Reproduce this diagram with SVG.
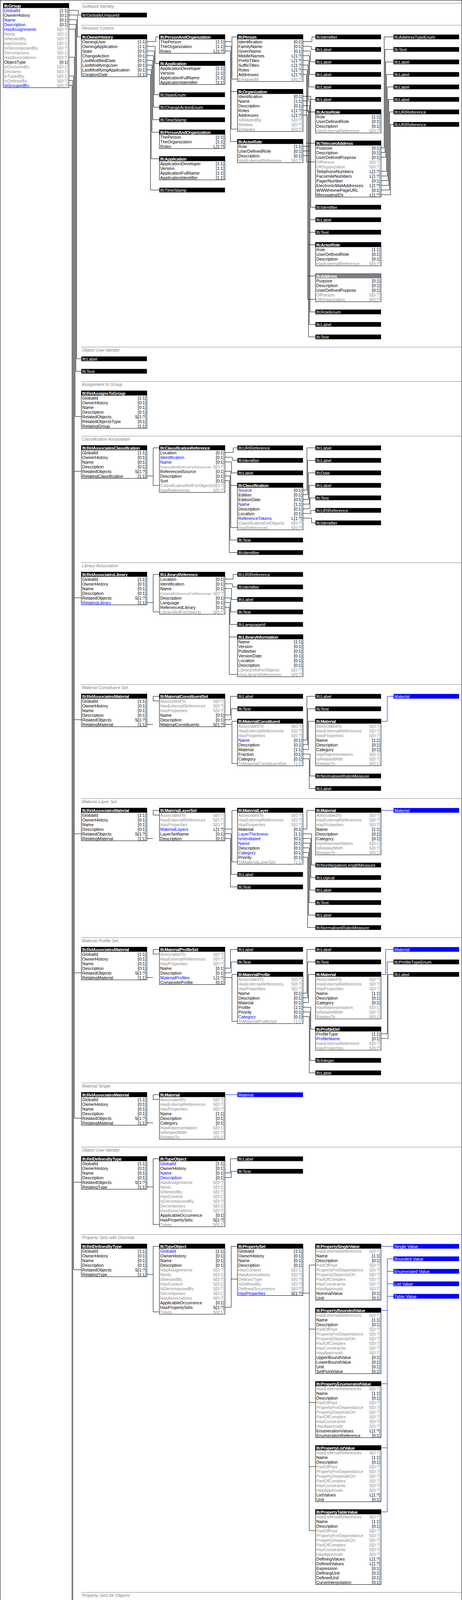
<svg xmlns="http://www.w3.org/2000/svg" width="1184" height="7020" viewBox="0 0 1184 7020">
<style>
text{font-family:"Liberation Sans",Arial,sans-serif;font-size:11px;fill:#000}
.h{font-weight:bold;fill:#fff;letter-spacing:-0.4px}
.w{fill:#fff}
.b{fill:#00f}
.g{fill:#8c8c8c}
.c{text-anchor:end}
.s{font-size:9px}
.l{font-style:italic;fill:#808080}
.bx{fill:#fff;stroke:#000}
.hd{fill:#000}
.hg{fill:#808080}
.bl{fill:#00f}
.sp{stroke:#808080;fill:none}
.k{fill:none;stroke:#000}
.kb{fill:none;stroke:#00f}
</style>
<rect x="0" y="0" width="1184" height="7020" fill="#fff"/>
<rect x="0.5" y="0.5" width="1183" height="7019" fill="none" stroke="#000"/>
<g id="sections">
<path class="sp" d="M208 8.5H1184M208 64.5H1184M208 888.5H1184M208 976.5H1184M208 1116.5H1184M208 1440.5H1184M208 1752.5H1184M208 2044.5H1184M208 2400.5H1184M208 2772.5H1184M208 2936.5H1184M208 3160.5H1184M208 4076.5H1184M208 4992.5H1184M208 5908.5H1184M208 6724.5H1184"/>
<text class="l" x="210" y="20">Software Identity</text>
<text class="l" x="210" y="76">Revision Control</text>
<text class="l" x="210" y="900">Object User Identity</text>
<text class="l" x="210" y="988">Assignment to Group</text>
<text class="l" x="210" y="1128">Classification Association</text>
<text class="l" x="210" y="1452">Library Association</text>
<text class="l" x="210" y="1764">Material Constituent Set</text>
<text class="l" x="210" y="2056">Material Layer Set</text>
<text class="l" x="210" y="2412">Material Profile Set</text>
<text class="l" x="210" y="2784">Material Single</text>
<text class="l" x="210" y="2948">Object User Identity</text>
<text class="l" x="210" y="3172">Property Sets with Override</text>
<text class="l" x="210" y="4088">Property Sets for Objects</text>
<text class="l" x="210" y="5004">Property Sets with Override</text>
<text class="l" x="210" y="5920">Quantity Sets</text>
<text class="l" x="210" y="6736">Group Assignment</text>
</g>
<g id="connectors">
<path class="k" d="M176.5 26.5H200.5V38.5H208.5M176.5 38.5H198.5V94.5H208.5M176.5 50.5H196.5V918.5H208.5M176.5 62.5H194.5V950.5H208.5M176.5 74.5H192.5V1066.5H208.5M176.5 146.5H190.5V2862.5H208.5M190.5 1206.5H208.5M190.5 1530.5H208.5M190.5 1842.5H208.5M190.5 2134.5H208.5M190.5 2490.5H208.5M176.5 194.5H188.5V3250.5H208.5M188.5 3026.5H208.5M176.5 206.5H186.5V5998.5H208.5M186.5 4166.5H208.5M186.5 5082.5H208.5M176.5 218.5H184.5V6838.5H208.5"/>
<path class="k" d="M376.5 106.5H399.5V94.5H408.5M376.5 118.5H397.5V162.5H408.5M376.5 130.5H395.5V242.5H408.5M376.5 142.5H393.5V274.5H408.5M376.5 154.5H391.5V306.5H408.5M376.5 166.5H389.5V338.5H408.5M376.5 178.5H387.5V406.5H408.5M376.5 190.5H385.5V486.5H408.5"/>
<path class="k" d="M576.5 106.5H594.5M608.5 94.5H594.5V202.5H608.5M576.5 118.5H592.5V330.5H608.5M592.5 234.5H608.5M576.5 130.5H590.5V362.5H608.5"/>
<path class="k" d="M776.5 106.5H799.5V94.5H808.5M776.5 118.5H797.5V126.5H808.5M776.5 130.5H795.5V158.5H808.5M776.5 142.5H793.5V190.5H808.5M776.5 154.5H791.5V222.5H808.5M776.5 166.5H789.5V254.5H808.5M776.5 178.5H787.5V286.5H808.5M776.5 190.5H785.5V414.5H808.5M785.5 366.5H808.5"/>
<path class="k" d="M776.5 246.5H796.5V530.5H808.5M776.5 258.5H794.5V562.5H808.5M776.5 270.5H792.5V594.5H808.5M776.5 282.5H790.5V626.5H808.5M776.5 294.5H788.5V766.5H808.5M788.5 706.5H808.5"/>
<path class="k" d="M776.5 374.5H794.5V798.5H808.5M776.5 386.5H792.5V830.5H808.5M776.5 398.5H790.5V862.5H808.5"/>
<path class="k" d="M976.5 378.5H984.5V94.5H1008.5M976.5 390.5H986.5V126.5H1008.5M976.5 402.5H988.5V158.5H1008.5M976.5 438.5H990.5V190.5H1008.5M976.5 450.5H992.5V222.5H1008.5M976.5 462.5H994.5V254.5H1008.5M976.5 474.5H996.5V254.5M976.5 486.5H998.5V286.5H1008.5M976.5 498.5H1000.5V318.5H1008.5"/>
<path class="k" d="M376.5 1218.5H392.5M408.5 1146.5H392.5V1242.5H408.5"/>
<path class="k" d="M576.5 1158.5H597.5V1146.5H608.5M576.5 1170.5H595.5V1178.5H608.5M576.5 1182.5H593.5V1210.5H608.5M576.5 1206.5H591.5V1350.5H608.5M591.5 1242.5H608.5M576.5 1218.5H589.5V1382.5H608.5M576.5 1230.5H587.5V1414.5H608.5"/>
<path class="k" d="M776.5 1254.5H786.5V1146.5H808.5M776.5 1266.5H788.5V1178.5H808.5M776.5 1278.5H790.5V1210.5H808.5M776.5 1290.5H792.5V1242.5H808.5M776.5 1302.5H794.5V1274.5H808.5M776.5 1314.5H796.5V1306.5H808.5M776.5 1326.5H798.5V1338.5H808.5"/>
<path class="k" d="M376.5 1542.5H392.5M408.5 1470.5H392.5V1566.5H408.5"/>
<path class="k" d="M576.5 1482.5H597.5V1470.5H608.5M576.5 1494.5H595.5V1502.5H608.5M576.5 1506.5H593.5V1534.5H608.5M576.5 1530.5H591.5V1566.5H608.5M576.5 1542.5H589.5V1598.5H608.5M576.5 1554.5H587.5V1726.5H608.5M587.5 1630.5H608.5"/>
<path class="k" d="M376.5 1854.5H392.5M408.5 1782.5H392.5V1794.5H408.5"/>
<path class="k" d="M576.5 1830.5H590.5V1782.5H608.5M576.5 1842.5H592.5V1814.5H608.5M576.5 1854.5H594.5M608.5 1846.5H594.5V1954.5H608.5"/>
<path class="k" d="M776.5 1894.5H786.5V1782.5H808.5M776.5 1906.5H788.5V1814.5H808.5M776.5 1918.5H790.5V1846.5H808.5M776.5 1930.5H794.5V1986.5H808.5M776.5 1942.5H792.5V2018.5H808.5"/>
<path class="kb" d="M976.5 1846.5H992.5V1782.5H1008.5"/>
<path class="k" d="M376.5 2146.5H392.5M408.5 2074.5H392.5V2086.5H408.5"/>
<path class="k" d="M576.5 2122.5H594.5M608.5 2074.5H594.5V2206.5H608.5M576.5 2134.5H592.5V2238.5H608.5M576.5 2146.5H590.5V2270.5H608.5"/>
<path class="k" d="M776.5 2122.5H786.5V2074.5H808.5M776.5 2134.5H798.5V2214.5H808.5M776.5 2146.5H796.5V2246.5H808.5M776.5 2158.5H794.5V2278.5H808.5M776.5 2170.5H792.5V2310.5H808.5M776.5 2182.5H790.5V2342.5H808.5M776.5 2194.5H788.5V2374.5H808.5"/>
<path class="kb" d="M976.5 2074.5H1008.5"/>
<path class="k" d="M376.5 2502.5H392.5M408.5 2430.5H392.5V2442.5H408.5"/>
<path class="k" d="M576.5 2478.5H590.5V2430.5H608.5M576.5 2490.5H592.5V2462.5H608.5M576.5 2502.5H594.5M608.5 2494.5H594.5V2614.5H608.5"/>
<path class="k" d="M776.5 2542.5H786.5V2430.5H808.5M776.5 2554.5H788.5V2462.5H808.5M776.5 2566.5H790.5V2494.5H808.5M776.5 2578.5H796.5V2634.5H808.5M776.5 2590.5H794.5V2714.5H808.5M776.5 2602.5H792.5V2746.5H808.5"/>
<path class="k" d="M976.5 2646.5H992.5V2462.5H1008.5M976.5 2658.5H994.5V2494.5H1008.5"/>
<path class="kb" d="M976.5 2494.5H988.5V2430.5H1008.5"/>
<path class="k" d="M376.5 2874.5H392.5M408.5 2802.5H392.5V2814.5H408.5"/>
<path class="kb" d="M576.5 2802.5H608.5"/>
<path class="k" d="M376.5 3038.5H392.5M408.5 2966.5H392.5V3134.5H408.5M576.5 3002.5H590.5V2966.5H608.5M576.5 3014.5H592.5V2998.5H608.5"/>
<path class="k" d="M376.5 3262.5H392.5M408.5 3190.5H392.5V3358.5H408.5M576.5 3346.5H592.5M608.5 3190.5H592.5V3346.5M592.5 3274.5H608.5"/>
<path class="k" d="M776.5 3310.5H792.5M792.5 3238.5V3918.5M792.5 3238.5H808.5M792.5 3402.5H808.5M792.5 3590.5H808.5M792.5 3754.5H808.5M792.5 3918.5H808.5"/>
<path class="kb" d="M976.5 3190.5H1008.5M976.5 3354.5H992.5V3222.5H1008.5M976.5 3542.5H992.5V3254.5H1008.5M976.5 3706.5H992.5V3286.5H1008.5M976.5 3870.5H992.5V3318.5H1008.5"/>
<path class="k" d="M376.5 4178.5H392.5M408.5 4106.5H392.5V4214.5H408.5"/>
<path class="k" d="M576.5 4226.5H592.5M592.5 4154.5V4834.5M592.5 4154.5H608.5M592.5 4318.5H608.5M592.5 4506.5H608.5M592.5 4670.5H608.5M592.5 4834.5H608.5"/>
<path class="kb" d="M776.5 4106.5H808.5M776.5 4270.5H792.5V4138.5H808.5M776.5 4458.5H792.5V4170.5H808.5M776.5 4622.5H792.5V4202.5H808.5M776.5 4786.5H792.5V4234.5H808.5"/>
<path class="k" d="M376.5 5094.5H392.5M408.5 5022.5H392.5V5130.5H408.5"/>
<path class="k" d="M576.5 5142.5H592.5M592.5 5070.5V5750.5M592.5 5070.5H608.5M592.5 5234.5H608.5M592.5 5422.5H608.5M592.5 5586.5H608.5M592.5 5750.5H608.5"/>
<path class="kb" d="M776.5 5022.5H808.5M776.5 5186.5H792.5V5054.5H808.5M776.5 5374.5H792.5V5086.5H808.5M776.5 5538.5H792.5V5118.5H808.5M776.5 5702.5H792.5V5150.5H808.5"/>
<path class="k" d="M376.5 6010.5H392.5M408.5 5938.5H392.5V6046.5H408.5"/>
<path class="k" d="M576.5 5974.5H588.5V5938.5H608.5M576.5 5986.5H590.5V5970.5H608.5M576.5 6058.5H592.5V6002.5H608.5M576.5 6070.5H594.5M608.5 6034.5H594.5V6614.5H608.5M594.5 6150.5H608.5M594.5 6266.5H608.5M594.5 6382.5H608.5M594.5 6498.5H608.5"/>
<path class="kb" d="M776.5 6034.5H808.5M792.5 5938.5V6614.5M792.5 5938.5H808.5M792.5 5970.5H808.5M792.5 6002.5H808.5M792.5 6066.5H808.5M792.5 6098.5H808.5M776.5 6150.5H792.5M776.5 6266.5H792.5M776.5 6382.5H792.5M776.5 6498.5H792.5M776.5 6614.5H792.5"/>
<path class="k" d="M376.5 6814.5H408.5"/>
<circle cx="571" cy="1182.5" r="5" fill="#00f"/>
</g>
<g id="nodes">
<g id="n_IfcGroup" transform="translate(8.5,8.5)"><rect class="bx" width="168" height="216"/><rect class="hd" width="168" height="12"/><text class="h" x="2" y="10">IfcGroup</text>
<text x="2" y="22" class="b">GlobalId</text><text x="166" y="22" class="c">[1:1]</text><text x="2" y="34">OwnerHistory</text><text x="166" y="34" class="c">[0:1]</text><text x="2" y="46" class="b">Name</text><text x="166" y="46" class="c">[0:1]</text><text x="2" y="58" class="b">Description</text><text x="166" y="58" class="c">[0:1]</text><text x="2" y="70" class="b">HasAssignments</text><text x="166" y="70" class="c g">S[0:?]</text><text x="2" y="82" class="g">Nests</text><text x="166" y="82" class="c g">S[0:1]</text><text x="2" y="94" class="g">IsNestedBy</text><text x="166" y="94" class="c g">S[0:?]</text><text x="2" y="106" class="g">HasContext</text><text x="166" y="106" class="c g">S[0:1]</text><text x="2" y="118" class="g">IsDecomposedBy</text><text x="166" y="118" class="c g">S[0:?]</text><text x="2" y="130" class="g">Decomposes</text><text x="166" y="130" class="c g">S[0:1]</text><text x="2" y="142" class="g">HasAssociations</text><text x="166" y="142" class="c g">S[0:?]</text><text x="2" y="154">ObjectType</text><text x="166" y="154" class="c">[0:1]</text><text x="2" y="166" class="g">IsDeclaredBy</text><text x="166" y="166" class="c g">S[0:1]</text><text x="2" y="178" class="g">Declares</text><text x="166" y="178" class="c g">S[0:?]</text><text x="2" y="190" class="g">IsTypedBy</text><text x="166" y="190" class="c g">S[0:1]</text><text x="2" y="202" class="g">IsDefinedBy</text><text x="166" y="202" class="c g">S[0:?]</text><text x="2" y="214" class="b">IsGroupedBy</text><text x="166" y="214" class="c g">S[0:?]</text></g>
<g id="n_GUID"><rect class="hd" x="208.5" y="32.5" width="168" height="12"/><text class="w" x="210.5" y="42.5">IfcGloballyUniqueId</text></g>

<g id="n_OwnerHistory" transform="translate(208.5,88.5)"><rect class="bx" width="168" height="108"/><rect class="hd" width="168" height="12"/><text class="h" x="2" y="10">IfcOwnerHistory</text>
<text x="2" y="22">OwningUser</text><text x="166" y="22" class="c">[1:1]</text><text x="2" y="34">OwningApplication</text><text x="166" y="34" class="c">[1:1]</text><text x="2" y="46">State</text><text x="166" y="46" class="c">[0:1]</text><text x="2" y="58">ChangeAction</text><text x="166" y="58" class="c">[0:1]</text><text x="2" y="70">LastModifiedDate</text><text x="166" y="70" class="c">[0:1]</text><text x="2" y="82">LastModifyingUser</text><text x="166" y="82" class="c">[0:1]</text><text x="2" y="94">LastModifyingApplication</text><text x="166" y="94" class="c">[0:1]</text><text x="2" y="106">CreationDate</text><text x="166" y="106" class="c">[1:1]</text></g>
<g id="n_PaO1" transform="translate(408.5,88.5)"><rect class="bx" width="168" height="48"/><rect class="hd" width="168" height="12"/><text class="h" x="2" y="10">IfcPersonAndOrganization</text>
<text x="2" y="22">ThePerson</text><text x="166" y="22" class="c">[1:1]</text><text x="2" y="34">TheOrganization</text><text x="166" y="34" class="c">[1:1]</text><text x="2" y="46">Roles</text><text x="166" y="46" class="c">L[1:?]</text></g>
<g id="n_App1" transform="translate(408.5,156.5)"><rect class="bx" width="168" height="60"/><rect class="hd" width="168" height="12"/><text class="h" x="2" y="10">IfcApplication</text>
<text x="2" y="22">ApplicationDeveloper</text><text x="166" y="22" class="c">[1:1]</text><text x="2" y="34">Version</text><text x="166" y="34" class="c">[1:1]</text><text x="2" y="46">ApplicationFullName</text><text x="166" y="46" class="c">[1:1]</text><text x="2" y="58">ApplicationIdentifier</text><text x="166" y="58" class="c">[1:1]</text></g>
<g id="n_StateEnum"><rect class="hd" x="408.5" y="236.5" width="168" height="12"/><text class="w" x="410.5" y="246.5">IfcStateEnum</text></g>
<g id="n_ChangeActionEnum"><rect class="hd" x="408.5" y="268.5" width="168" height="12"/><text class="w" x="410.5" y="278.5">IfcChangeActionEnum</text></g>
<g id="n_TimeStamp1"><rect class="hd" x="408.5" y="300.5" width="168" height="12"/><text class="w" x="410.5" y="310.5">IfcTimeStamp</text></g>
<g id="n_PaO2" transform="translate(408.5,332.5)"><rect class="bx" width="168" height="48"/><rect class="hd" width="168" height="12"/><text class="h" x="2" y="10">IfcPersonAndOrganization</text>
<text x="2" y="22">ThePerson</text><text x="166" y="22" class="c">[1:1]</text><text x="2" y="34">TheOrganization</text><text x="166" y="34" class="c">[1:1]</text><text x="2" y="46">Roles</text><text x="166" y="46" class="c">L[1:?]</text></g>
<g id="n_App2" transform="translate(408.5,400.5)"><rect class="bx" width="168" height="60"/><rect class="hd" width="168" height="12"/><text class="h" x="2" y="10">IfcApplication</text>
<text x="2" y="22">ApplicationDeveloper</text><text x="166" y="22" class="c">[1:1]</text><text x="2" y="34">Version</text><text x="166" y="34" class="c">[1:1]</text><text x="2" y="46">ApplicationFullName</text><text x="166" y="46" class="c">[1:1]</text><text x="2" y="58">ApplicationIdentifier</text><text x="166" y="58" class="c">[1:1]</text></g>
<g id="n_TimeStamp2"><rect class="hd" x="408.5" y="480.5" width="168" height="12"/><text class="w" x="410.5" y="490.5">IfcTimeStamp</text></g>
<g id="n_Person" transform="translate(608.5,88.5)"><rect class="bx" width="168" height="120"/><rect class="hd" width="168" height="12"/><text class="h" x="2" y="10">IfcPerson</text>
<text x="2" y="22">Identification</text><text x="166" y="22" class="c">[0:1]</text><text x="2" y="34">FamilyName</text><text x="166" y="34" class="c">[0:1]</text><text x="2" y="46">GivenName</text><text x="166" y="46" class="c">[0:1]</text><text x="2" y="58">MiddleNames</text><text x="166" y="58" class="c">L[1:?]</text><text x="2" y="70">PrefixTitles</text><text x="166" y="70" class="c">L[1:?]</text><text x="2" y="82">SuffixTitles</text><text x="166" y="82" class="c">L[1:?]</text><text x="2" y="94">Roles</text><text x="166" y="94" class="c">L[1:?]</text><text x="2" y="106">Addresses</text><text x="166" y="106" class="c">L[1:?]</text><text x="2" y="118" class="g">EngagedIn</text><text x="166" y="118" class="c g">S[0:?]</text></g>
<g id="n_Org" transform="translate(608.5,228.5)"><rect class="bx" width="168" height="108"/><rect class="hd" width="168" height="12"/><text class="h" x="2" y="10">IfcOrganization</text>
<text x="2" y="22">Identification</text><text x="166" y="22" class="c">[0:1]</text><text x="2" y="34">Name</text><text x="166" y="34" class="c">[1:1]</text><text x="2" y="46">Description</text><text x="166" y="46" class="c">[0:1]</text><text x="2" y="58">Roles</text><text x="166" y="58" class="c">L[1:?]</text><text x="2" y="70">Addresses</text><text x="166" y="70" class="c">L[1:?]</text><text x="2" y="82" class="g">IsRelatedBy</text><text x="166" y="82" class="c g">S[0:?]</text><text x="2" y="94" class="g">Relates</text><text x="166" y="94" class="c g">S[0:?]</text><text x="2" y="106" class="g">Engages</text><text x="166" y="106" class="c g">S[0:?]</text></g>
<g id="n_ActorRole1" transform="translate(608.5,356.5)"><rect class="bx" width="168" height="60"/><rect class="hd" width="168" height="12"/><text class="h" x="2" y="10">IfcActorRole</text>
<text x="2" y="22">Role</text><text x="166" y="22" class="c">[1:1]</text><text x="2" y="34">UserDefinedRole</text><text x="166" y="34" class="c">[0:1]</text><text x="2" y="46">Description</text><text x="166" y="46" class="c">[0:1]</text><text x="2" y="58" class="g">HasExternalReference</text><text x="166" y="58" class="c g">S[0:?]</text></g>
<g id="n_Ident1"><rect class="hd" x="808.5" y="88.5" width="168" height="12"/><text class="w" x="810.5" y="98.5">IfcIdentifier</text></g>
<g id="n_Label1"><rect class="hd" x="808.5" y="120.5" width="168" height="12"/><text class="w" x="810.5" y="130.5">IfcLabel</text></g>
<g id="n_Label2"><rect class="hd" x="808.5" y="152.5" width="168" height="12"/><text class="w" x="810.5" y="162.5">IfcLabel</text></g>
<g id="n_Label3"><rect class="hd" x="808.5" y="184.5" width="168" height="12"/><text class="w" x="810.5" y="194.5">IfcLabel</text></g>
<g id="n_Label4"><rect class="hd" x="808.5" y="216.5" width="168" height="12"/><text class="w" x="810.5" y="226.5">IfcLabel</text></g>
<g id="n_Label5"><rect class="hd" x="808.5" y="248.5" width="168" height="12"/><text class="w" x="810.5" y="258.5">IfcLabel</text></g>
<g id="n_ActorRole2" transform="translate(808.5,280.5)"><rect class="bx" width="168" height="60"/><rect class="hd" width="168" height="12"/><text class="h" x="2" y="10">IfcActorRole</text>
<text x="2" y="22">Role</text><text x="166" y="22" class="c">[1:1]</text><text x="2" y="34">UserDefinedRole</text><text x="166" y="34" class="c">[0:1]</text><text x="2" y="46">Description</text><text x="166" y="46" class="c">[0:1]</text><text x="2" y="58" class="g">HasExternalReference</text><text x="166" y="58" class="c g">S[0:?]</text></g>
<g id="n_Telecom" transform="translate(808.5,360.5)"><rect class="bx" width="168" height="144"/><rect class="hd" width="168" height="12"/><text class="h" x="2" y="10">IfcTelecomAddress</text>
<text x="2" y="22">Purpose</text><text x="166" y="22" class="c">[0:1]</text><text x="2" y="34">Description</text><text x="166" y="34" class="c">[0:1]</text><text x="2" y="46">UserDefinedPurpose</text><text x="166" y="46" class="c">[0:1]</text><text x="2" y="58" class="g">OfPerson</text><text x="166" y="58" class="c g">S[0:?]</text><text x="2" y="70" class="g">OfOrganization</text><text x="166" y="70" class="c g">S[0:?]</text><text x="2" y="82">TelephoneNumbers</text><text x="166" y="82" class="c">L[1:?]</text><text x="2" y="94">FacsimileNumbers</text><text x="166" y="94" class="c">L[1:?]</text><text x="2" y="106">PagerNumber</text><text x="166" y="106" class="c">[0:1]</text><text x="2" y="118">ElectronicMailAddresses</text><text x="166" y="118" class="c">L[1:?]</text><text x="2" y="130">WWWHomePageURL</text><text x="166" y="130" class="c">[0:1]</text><text x="2" y="142">MessagingIDs</text><text x="166" y="142" class="c">L[1:?]</text></g>
<g id="n_Ident2"><rect class="hd" x="808.5" y="524.5" width="168" height="12"/><text class="w" x="810.5" y="534.5">IfcIdentifier</text></g>
<g id="n_Label6"><rect class="hd" x="808.5" y="556.5" width="168" height="12"/><text class="w" x="810.5" y="566.5">IfcLabel</text></g>
<g id="n_Text1"><rect class="hd" x="808.5" y="588.5" width="168" height="12"/><text class="w" x="810.5" y="598.5">IfcText</text></g>
<g id="n_ActorRole3" transform="translate(808.5,620.5)"><rect class="bx" width="168" height="60"/><rect class="hd" width="168" height="12"/><text class="h" x="2" y="10">IfcActorRole</text>
<text x="2" y="22">Role</text><text x="166" y="22" class="c">[1:1]</text><text x="2" y="34">UserDefinedRole</text><text x="166" y="34" class="c">[0:1]</text><text x="2" y="46">Description</text><text x="166" y="46" class="c">[0:1]</text><text x="2" y="58" class="g">HasExternalReference</text><text x="166" y="58" class="c g">S[0:?]</text></g>
<g id="n_Address" transform="translate(808.5,700.5)"><rect class="bx" width="168" height="72"/><rect class="hg" width="168" height="12"/><text class="h" x="2" y="10">IfcAddress</text>
<text x="2" y="22">Purpose</text><text x="166" y="22" class="c">[0:1]</text><text x="2" y="34">Description</text><text x="166" y="34" class="c">[0:1]</text><text x="2" y="46">UserDefinedPurpose</text><text x="166" y="46" class="c">[0:1]</text><text x="2" y="58" class="g">OfPerson</text><text x="166" y="58" class="c g">S[0:?]</text><text x="2" y="70" class="g">OfOrganization</text><text x="166" y="70" class="c g">S[0:?]</text></g>
<g id="n_RoleEnum"><rect class="hd" x="808.5" y="792.5" width="168" height="12"/><text class="w" x="810.5" y="802.5">IfcRoleEnum</text></g>
<g id="n_Label7"><rect class="hd" x="808.5" y="824.5" width="168" height="12"/><text class="w" x="810.5" y="834.5">IfcLabel</text></g>
<g id="n_Text2"><rect class="hd" x="808.5" y="856.5" width="168" height="12"/><text class="w" x="810.5" y="866.5">IfcText</text></g>
<g id="n_AddrTypeEnum"><rect class="hd" x="1008.5" y="88.5" width="168" height="12"/><text class="w" x="1010.5" y="98.5">IfcAddressTypeEnum</text></g>
<g id="n_Text3"><rect class="hd" x="1008.5" y="120.5" width="168" height="12"/><text class="w" x="1010.5" y="130.5">IfcText</text></g>
<g id="n_Label8"><rect class="hd" x="1008.5" y="152.5" width="168" height="12"/><text class="w" x="1010.5" y="162.5">IfcLabel</text></g>
<g id="n_Label9"><rect class="hd" x="1008.5" y="184.5" width="168" height="12"/><text class="w" x="1010.5" y="194.5">IfcLabel</text></g>
<g id="n_Label10"><rect class="hd" x="1008.5" y="216.5" width="168" height="12"/><text class="w" x="1010.5" y="226.5">IfcLabel</text></g>
<g id="n_Label11"><rect class="hd" x="1008.5" y="248.5" width="168" height="12"/><text class="w" x="1010.5" y="258.5">IfcLabel</text></g>
<g id="n_URI1"><rect class="hd" x="1008.5" y="280.5" width="168" height="12"/><text class="w" x="1010.5" y="290.5">IfcURIReference</text></g>
<g id="n_URI2"><rect class="hd" x="1008.5" y="312.5" width="168" height="12"/><text class="w" x="1010.5" y="322.5">IfcURIReference</text></g>

<g id="n_Label12"><rect class="hd" x="208.5" y="912.5" width="168" height="12"/><text class="w" x="210.5" y="922.5">IfcLabel</text></g>
<g id="n_Text4"><rect class="hd" x="208.5" y="944.5" width="168" height="12"/><text class="w" x="210.5" y="954.5">IfcText</text></g>

<g id="n_RelAssignsToGroup1" transform="translate(208.5,1000.5)"><rect class="bx" width="168" height="96"/><rect class="hd" width="168" height="12"/><text class="h" x="2" y="10">IfcRelAssignsToGroup</text>
<text x="2" y="22">GlobalId</text><text x="166" y="22" class="c">[1:1]</text><text x="2" y="34">OwnerHistory</text><text x="166" y="34" class="c">[0:1]</text><text x="2" y="46">Name</text><text x="166" y="46" class="c">[0:1]</text><text x="2" y="58">Description</text><text x="166" y="58" class="c">[0:1]</text><text x="2" y="70">RelatedObjects</text><text x="166" y="70" class="c">S[1:?]</text><text x="2" y="82">RelatedObjectsType</text><text x="166" y="82" class="c">[0:1]</text><text x="2" y="94">RelatingGroup</text><text x="166" y="94" class="c">[1:1]</text></g>

<g id="n_RelAssocClass" transform="translate(208.5,1140.5)"><rect class="bx" width="168" height="84"/><rect class="hd" width="168" height="12"/><text class="h" x="2" y="10">IfcRelAssociatesClassification</text>
<text x="2" y="22">GlobalId</text><text x="166" y="22" class="c">[1:1]</text><text x="2" y="34">OwnerHistory</text><text x="166" y="34" class="c">[0:1]</text><text x="2" y="46">Name</text><text x="166" y="46" class="c">[0:1]</text><text x="2" y="58">Description</text><text x="166" y="58" class="c">[0:1]</text><text x="2" y="70">RelatedObjects</text><text x="166" y="70" class="c">S[1:?]</text><text x="2" y="82">RelatingClassification</text><text x="166" y="82" class="c">[1:1]</text></g>
<g id="n_ClassRef" transform="translate(408.5,1140.5)"><rect class="bx" width="168" height="120"/><rect class="hd" width="168" height="12"/><text class="h" x="2" y="10">IfcClassificationReference</text>
<text x="2" y="22">Location</text><text x="166" y="22" class="c">[0:1]</text><text x="2" y="34" class="b">Identification</text><text x="166" y="34" class="c">[0:1]</text><text x="2" y="46" class="b">Name</text><text x="166" y="46" class="c">[0:1]</text><text x="2" y="58" class="g s">ExternalReferenceForResources</text><text x="166" y="58" class="c g">S[0:?]</text><text x="2" y="70">ReferencedSource</text><text x="166" y="70" class="c">[0:1]</text><text x="2" y="82">Description</text><text x="166" y="82" class="c">[0:1]</text><text x="2" y="94">Sort</text><text x="166" y="94" class="c">[0:1]</text><text x="2" y="106" class="g">ClassificationRefForObjects</text><text x="166" y="106" class="c g">S[0:?]</text><text x="2" y="118" class="g">HasReferences</text><text x="166" y="118" class="c g">S[0:?]</text></g>
<g id="n_URI3"><rect class="hd" x="608.5" y="1140.5" width="168" height="12"/><text class="w" x="610.5" y="1150.5">IfcURIReference</text></g>
<g id="n_Ident3"><rect class="hd" x="608.5" y="1172.5" width="168" height="12"/><text class="w" x="610.5" y="1182.5">IfcIdentifier</text></g>
<g id="n_Label13"><rect class="hd" x="608.5" y="1204.5" width="168" height="12"/><text class="w" x="610.5" y="1214.5">IfcLabel</text></g>
<g id="n_Classification" transform="translate(608.5,1236.5)"><rect class="bx" width="168" height="120"/><rect class="hd" width="168" height="12"/><text class="h" x="2" y="10">IfcClassification</text>
<text x="2" y="22" class="b">Source</text><text x="166" y="22" class="c">[0:1]</text><text x="2" y="34">Edition</text><text x="166" y="34" class="c">[0:1]</text><text x="2" y="46">EditionDate</text><text x="166" y="46" class="c">[0:1]</text><text x="2" y="58" class="b">Name</text><text x="166" y="58" class="c">[1:1]</text><text x="2" y="70">Description</text><text x="166" y="70" class="c">[0:1]</text><text x="2" y="82">Location</text><text x="166" y="82" class="c">[0:1]</text><text x="2" y="94" class="b">ReferenceTokens</text><text x="166" y="94" class="c">L[1:?]</text><text x="2" y="106" class="g">ClassificationForObjects</text><text x="166" y="106" class="c g">S[0:?]</text><text x="2" y="118" class="g">HasReferences</text><text x="166" y="118" class="c g">S[0:?]</text></g>
<g id="n_Text5"><rect class="hd" x="608.5" y="1376.5" width="168" height="12"/><text class="w" x="610.5" y="1386.5">IfcText</text></g>
<g id="n_Ident4"><rect class="hd" x="608.5" y="1408.5" width="168" height="12"/><text class="w" x="610.5" y="1418.5">IfcIdentifier</text></g>
<g id="n_Label14"><rect class="hd" x="808.5" y="1140.5" width="168" height="12"/><text class="w" x="810.5" y="1150.5">IfcLabel</text></g>
<g id="n_Label15"><rect class="hd" x="808.5" y="1172.5" width="168" height="12"/><text class="w" x="810.5" y="1182.5">IfcLabel</text></g>
<g id="n_Date1"><rect class="hd" x="808.5" y="1204.5" width="168" height="12"/><text class="w" x="810.5" y="1214.5">IfcDate</text></g>
<g id="n_Label16"><rect class="hd" x="808.5" y="1236.5" width="168" height="12"/><text class="w" x="810.5" y="1246.5">IfcLabel</text></g>
<g id="n_Text6"><rect class="hd" x="808.5" y="1268.5" width="168" height="12"/><text class="w" x="810.5" y="1278.5">IfcText</text></g>
<g id="n_URI4"><rect class="hd" x="808.5" y="1300.5" width="168" height="12"/><text class="w" x="810.5" y="1310.5">IfcURIReference</text></g>
<g id="n_Ident5"><rect class="hd" x="808.5" y="1332.5" width="168" height="12"/><text class="w" x="810.5" y="1342.5">IfcIdentifier</text></g>

<g id="n_RelAssocLib" transform="translate(208.5,1464.5)"><rect class="bx" width="168" height="84"/><rect class="hd" width="168" height="12"/><text class="h" x="2" y="10">IfcRelAssociatesLibrary</text>
<text x="2" y="22">GlobalId</text><text x="166" y="22" class="c">[1:1]</text><text x="2" y="34">OwnerHistory</text><text x="166" y="34" class="c">[0:1]</text><text x="2" y="46">Name</text><text x="166" y="46" class="c">[0:1]</text><text x="2" y="58">Description</text><text x="166" y="58" class="c">[0:1]</text><text x="2" y="70">RelatedObjects</text><text x="166" y="70" class="c">S[1:?]</text><text x="2" y="82" class="b">RelatingLibrary</text><text x="166" y="82" class="c">[1:1]</text></g>
<g id="n_LibRef" transform="translate(408.5,1464.5)"><rect class="bx" width="168" height="108"/><rect class="hd" width="168" height="12"/><text class="h" x="2" y="10">IfcLibraryReference</text>
<text x="2" y="22">Location</text><text x="166" y="22" class="c">[0:1]</text><text x="2" y="34">Identification</text><text x="166" y="34" class="c">[0:1]</text><text x="2" y="46">Name</text><text x="166" y="46" class="c">[0:1]</text><text x="2" y="58" class="g s">ExternalReferenceForResources</text><text x="166" y="58" class="c g">S[0:?]</text><text x="2" y="70">Description</text><text x="166" y="70" class="c">[0:1]</text><text x="2" y="82">Language</text><text x="166" y="82" class="c">[0:1]</text><text x="2" y="94">ReferencedLibrary</text><text x="166" y="94" class="c">[0:1]</text><text x="2" y="106" class="g">LibraryRefForObjects</text><text x="166" y="106" class="c g">S[0:?]</text></g>
<g id="n_URI5"><rect class="hd" x="608.5" y="1464.5" width="168" height="12"/><text class="w" x="610.5" y="1474.5">IfcURIReference</text></g>
<g id="n_Ident6"><rect class="hd" x="608.5" y="1496.5" width="168" height="12"/><text class="w" x="610.5" y="1506.5">IfcIdentifier</text></g>
<g id="n_Label17"><rect class="hd" x="608.5" y="1528.5" width="168" height="12"/><text class="w" x="610.5" y="1538.5">IfcLabel</text></g>
<g id="n_Text7"><rect class="hd" x="608.5" y="1560.5" width="168" height="12"/><text class="w" x="610.5" y="1570.5">IfcText</text></g>
<g id="n_LangId"><rect class="hd" x="608.5" y="1592.5" width="168" height="12"/><text class="w" x="610.5" y="1602.5">IfcLanguageId</text></g>
<g id="n_LibInfo" transform="translate(608.5,1624.5)"><rect class="bx" width="168" height="108"/><rect class="hd" width="168" height="12"/><text class="h" x="2" y="10">IfcLibraryInformation</text>
<text x="2" y="22">Name</text><text x="166" y="22" class="c">[1:1]</text><text x="2" y="34">Version</text><text x="166" y="34" class="c">[0:1]</text><text x="2" y="46">Publisher</text><text x="166" y="46" class="c">[0:1]</text><text x="2" y="58">VersionDate</text><text x="166" y="58" class="c">[0:1]</text><text x="2" y="70">Location</text><text x="166" y="70" class="c">[0:1]</text><text x="2" y="82">Description</text><text x="166" y="82" class="c">[0:1]</text><text x="2" y="94" class="g">LibraryInfoForObjects</text><text x="166" y="94" class="c g">S[0:?]</text><text x="2" y="106" class="g">HasLibraryReferences</text><text x="166" y="106" class="c g">S[0:?]</text></g>

<g id="n_RelAssocMat1" transform="translate(208.5,1776.5)"><rect class="bx" width="168" height="84"/><rect class="hd" width="168" height="12"/><text class="h" x="2" y="10">IfcRelAssociatesMaterial</text>
<text x="2" y="22">GlobalId</text><text x="166" y="22" class="c">[1:1]</text><text x="2" y="34">OwnerHistory</text><text x="166" y="34" class="c">[0:1]</text><text x="2" y="46">Name</text><text x="166" y="46" class="c">[0:1]</text><text x="2" y="58">Description</text><text x="166" y="58" class="c">[0:1]</text><text x="2" y="70">RelatedObjects</text><text x="166" y="70" class="c">S[1:?]</text><text x="2" y="82">RelatingMaterial</text><text x="166" y="82" class="c">[1:1]</text></g>
<g id="n_MatConstSet" transform="translate(408.5,1776.5)"><rect class="bx" width="168" height="84"/><rect class="hd" width="168" height="12"/><text class="h" x="2" y="10">IfcMaterialConstituentSet</text>
<text x="2" y="22" class="g">AssociatedTo</text><text x="166" y="22" class="c g">S[0:?]</text><text x="2" y="34" class="g">HasExternalReferences</text><text x="166" y="34" class="c g">S[0:?]</text><text x="2" y="46" class="g">HasProperties</text><text x="166" y="46" class="c g">S[0:?]</text><text x="2" y="58">Name</text><text x="166" y="58" class="c">[0:1]</text><text x="2" y="70">Description</text><text x="166" y="70" class="c">[0:1]</text><text x="2" y="82">MaterialConstituents</text><text x="166" y="82" class="c">S[1:?]</text></g>
<g id="n_Label18"><rect class="hd" x="608.5" y="1776.5" width="168" height="12"/><text class="w" x="610.5" y="1786.5">IfcLabel</text></g>
<g id="n_Text8"><rect class="hd" x="608.5" y="1808.5" width="168" height="12"/><text class="w" x="610.5" y="1818.5">IfcText</text></g>
<g id="n_MatConst" transform="translate(608.5,1840.5)"><rect class="bx" width="168" height="120"/><rect class="hd" width="168" height="12"/><text class="h" x="2" y="10">IfcMaterialConstituent</text>
<text x="2" y="22" class="g">AssociatedTo</text><text x="166" y="22" class="c g">S[0:?]</text><text x="2" y="34" class="g">HasExternalReferences</text><text x="166" y="34" class="c g">S[0:?]</text><text x="2" y="46" class="g">HasProperties</text><text x="166" y="46" class="c g">S[0:?]</text><text x="2" y="58" class="b">Name</text><text x="166" y="58" class="c">[0:1]</text><text x="2" y="70">Description</text><text x="166" y="70" class="c">[0:1]</text><text x="2" y="82">Material</text><text x="166" y="82" class="c">[1:1]</text><text x="2" y="94">Fraction</text><text x="166" y="94" class="c">[0:1]</text><text x="2" y="106">Category</text><text x="166" y="106" class="c">[0:1]</text><text x="2" y="118" class="g">ToMaterialConstituentSet</text><text x="166" y="118" class="c g">[1:1]</text></g>
<g id="n_Label19"><rect class="hd" x="808.5" y="1776.5" width="168" height="12"/><text class="w" x="810.5" y="1786.5">IfcLabel</text></g>
<g id="n_Text9"><rect class="hd" x="808.5" y="1808.5" width="168" height="12"/><text class="w" x="810.5" y="1818.5">IfcText</text></g>
<g id="n_Material1" transform="translate(808.5,1840.5)"><rect class="bx" width="168" height="120"/><rect class="hd" width="168" height="12"/><text class="h" x="2" y="10">IfcMaterial</text>
<text x="2" y="22" class="g">AssociatedTo</text><text x="166" y="22" class="c g">S[0:?]</text><text x="2" y="34" class="g">HasExternalReferences</text><text x="166" y="34" class="c g">S[0:?]</text><text x="2" y="46" class="g">HasProperties</text><text x="166" y="46" class="c g">S[0:?]</text><text x="2" y="58">Name</text><text x="166" y="58" class="c">[1:1]</text><text x="2" y="70">Description</text><text x="166" y="70" class="c">[0:1]</text><text x="2" y="82">Category</text><text x="166" y="82" class="c">[0:1]</text><text x="2" y="94" class="g">HasRepresentation</text><text x="166" y="94" class="c g">S[0:1]</text><text x="2" y="106" class="g">IsRelatedWith</text><text x="166" y="106" class="c g">S[0:?]</text><text x="2" y="118" class="g">RelatesTo</text><text x="166" y="118" class="c g">S[0:1]</text></g>
<g id="n_NRM1"><rect class="hd" x="808.5" y="1980.5" width="168" height="12"/><text class="w" x="810.5" y="1990.5">IfcNormalisedRatioMeasure</text></g>
<g id="n_Label20"><rect class="hd" x="808.5" y="2012.5" width="168" height="12"/><text class="w" x="810.5" y="2022.5">IfcLabel</text></g>
<g id="n_MatBlue1"><rect class="bl" x="1008.5" y="1776.5" width="168" height="12"/><text class="w" x="1010.5" y="1786.5">Material</text></g>

<g id="n_RelAssocMat2" transform="translate(208.5,2068.5)"><rect class="bx" width="168" height="84"/><rect class="hd" width="168" height="12"/><text class="h" x="2" y="10">IfcRelAssociatesMaterial</text>
<text x="2" y="22">GlobalId</text><text x="166" y="22" class="c">[1:1]</text><text x="2" y="34">OwnerHistory</text><text x="166" y="34" class="c">[0:1]</text><text x="2" y="46">Name</text><text x="166" y="46" class="c">[0:1]</text><text x="2" y="58">Description</text><text x="166" y="58" class="c">[0:1]</text><text x="2" y="70">RelatedObjects</text><text x="166" y="70" class="c">S[1:?]</text><text x="2" y="82">RelatingMaterial</text><text x="166" y="82" class="c">[1:1]</text></g>
<g id="n_MatLayerSet" transform="translate(408.5,2068.5)"><rect class="bx" width="168" height="84"/><rect class="hd" width="168" height="12"/><text class="h" x="2" y="10">IfcMaterialLayerSet</text>
<text x="2" y="22" class="g">AssociatedTo</text><text x="166" y="22" class="c g">S[0:?]</text><text x="2" y="34" class="g">HasExternalReferences</text><text x="166" y="34" class="c g">S[0:?]</text><text x="2" y="46" class="g">HasProperties</text><text x="166" y="46" class="c g">S[0:?]</text><text x="2" y="58" class="b">MaterialLayers</text><text x="166" y="58" class="c">L[1:?]</text><text x="2" y="70">LayerSetName</text><text x="166" y="70" class="c">[0:1]</text><text x="2" y="82">Description</text><text x="166" y="82" class="c">[0:1]</text></g>
<g id="n_MatLayer" transform="translate(608.5,2068.5)"><rect class="bx" width="168" height="144"/><rect class="hd" width="168" height="12"/><text class="h" x="2" y="10">IfcMaterialLayer</text>
<text x="2" y="22" class="g">AssociatedTo</text><text x="166" y="22" class="c g">S[0:?]</text><text x="2" y="34" class="g">HasExternalReferences</text><text x="166" y="34" class="c g">S[0:?]</text><text x="2" y="46" class="g">HasProperties</text><text x="166" y="46" class="c g">S[0:?]</text><text x="2" y="58">Material</text><text x="166" y="58" class="c">[0:1]</text><text x="2" y="70" class="b">LayerThickness</text><text x="166" y="70" class="c">[1:1]</text><text x="2" y="82" class="b">IsVentilated</text><text x="166" y="82" class="c">[0:1]</text><text x="2" y="94" class="b">Name</text><text x="166" y="94" class="c">[0:1]</text><text x="2" y="106">Description</text><text x="166" y="106" class="c">[0:1]</text><text x="2" y="118" class="b">Category</text><text x="166" y="118" class="c">[0:1]</text><text x="2" y="130">Priority</text><text x="166" y="130" class="c">[0:1]</text><text x="2" y="142" class="g">ToMaterialLayerSet</text><text x="166" y="142" class="c g">[1:1]</text></g>
<g id="n_Label21"><rect class="hd" x="608.5" y="2232.5" width="168" height="12"/><text class="w" x="610.5" y="2242.5">IfcLabel</text></g>
<g id="n_Text10"><rect class="hd" x="608.5" y="2264.5" width="168" height="12"/><text class="w" x="610.5" y="2274.5">IfcText</text></g>
<g id="n_Material2" transform="translate(808.5,2068.5)"><rect class="bx" width="168" height="120"/><rect class="hd" width="168" height="12"/><text class="h" x="2" y="10">IfcMaterial</text>
<text x="2" y="22" class="g">AssociatedTo</text><text x="166" y="22" class="c g">S[0:?]</text><text x="2" y="34" class="g">HasExternalReferences</text><text x="166" y="34" class="c g">S[0:?]</text><text x="2" y="46" class="g">HasProperties</text><text x="166" y="46" class="c g">S[0:?]</text><text x="2" y="58">Name</text><text x="166" y="58" class="c">[1:1]</text><text x="2" y="70">Description</text><text x="166" y="70" class="c">[0:1]</text><text x="2" y="82">Category</text><text x="166" y="82" class="c">[0:1]</text><text x="2" y="94" class="g">HasRepresentation</text><text x="166" y="94" class="c g">S[0:1]</text><text x="2" y="106" class="g">IsRelatedWith</text><text x="166" y="106" class="c g">S[0:?]</text><text x="2" y="118" class="g">RelatesTo</text><text x="166" y="118" class="c g">S[0:1]</text></g>
<g id="n_NNLM"><rect class="hd" x="808.5" y="2208.5" width="168" height="12"/><text class="w" x="810.5" y="2218.5">IfcNonNegativeLengthMeasure</text></g>
<g id="n_Logical"><rect class="hd" x="808.5" y="2240.5" width="168" height="12"/><text class="w" x="810.5" y="2250.5">IfcLogical</text></g>
<g id="n_Label22"><rect class="hd" x="808.5" y="2272.5" width="168" height="12"/><text class="w" x="810.5" y="2282.5">IfcLabel</text></g>
<g id="n_Text11"><rect class="hd" x="808.5" y="2304.5" width="168" height="12"/><text class="w" x="810.5" y="2314.5">IfcText</text></g>
<g id="n_Label23"><rect class="hd" x="808.5" y="2336.5" width="168" height="12"/><text class="w" x="810.5" y="2346.5">IfcLabel</text></g>
<g id="n_NRM2"><rect class="hd" x="808.5" y="2368.5" width="168" height="12"/><text class="w" x="810.5" y="2378.5">IfcNormalisedRatioMeasure</text></g>
<g id="n_MatBlue2"><rect class="bl" x="1008.5" y="2068.5" width="168" height="12"/><text class="w" x="1010.5" y="2078.5">Material</text></g>

<g id="n_RelAssocMat3" transform="translate(208.5,2424.5)"><rect class="bx" width="168" height="84"/><rect class="hd" width="168" height="12"/><text class="h" x="2" y="10">IfcRelAssociatesMaterial</text>
<text x="2" y="22">GlobalId</text><text x="166" y="22" class="c">[1:1]</text><text x="2" y="34">OwnerHistory</text><text x="166" y="34" class="c">[0:1]</text><text x="2" y="46">Name</text><text x="166" y="46" class="c">[0:1]</text><text x="2" y="58">Description</text><text x="166" y="58" class="c">[0:1]</text><text x="2" y="70">RelatedObjects</text><text x="166" y="70" class="c">S[1:?]</text><text x="2" y="82">RelatingMaterial</text><text x="166" y="82" class="c">[1:1]</text></g>
<g id="n_MatProfSet" transform="translate(408.5,2424.5)"><rect class="bx" width="168" height="96"/><rect class="hd" width="168" height="12"/><text class="h" x="2" y="10">IfcMaterialProfileSet</text>
<text x="2" y="22" class="g">AssociatedTo</text><text x="166" y="22" class="c g">S[0:?]</text><text x="2" y="34" class="g">HasExternalReferences</text><text x="166" y="34" class="c g">S[0:?]</text><text x="2" y="46" class="g">HasProperties</text><text x="166" y="46" class="c g">S[0:?]</text><text x="2" y="58">Name</text><text x="166" y="58" class="c">[0:1]</text><text x="2" y="70">Description</text><text x="166" y="70" class="c">[0:1]</text><text x="2" y="82" class="b">MaterialProfiles</text><text x="166" y="82" class="c">L[1:?]</text><text x="2" y="94">CompositeProfile</text><text x="166" y="94" class="c">[0:1]</text></g>
<g id="n_Label24"><rect class="hd" x="608.5" y="2424.5" width="168" height="12"/><text class="w" x="610.5" y="2434.5">IfcLabel</text></g>
<g id="n_Text12"><rect class="hd" x="608.5" y="2456.5" width="168" height="12"/><text class="w" x="610.5" y="2466.5">IfcText</text></g>
<g id="n_MatProf" transform="translate(608.5,2488.5)"><rect class="bx" width="168" height="132"/><rect class="hd" width="168" height="12"/><text class="h" x="2" y="10">IfcMaterialProfile</text>
<text x="2" y="22" class="g">AssociatedTo</text><text x="166" y="22" class="c g">S[0:?]</text><text x="2" y="34" class="g">HasExternalReferences</text><text x="166" y="34" class="c g">S[0:?]</text><text x="2" y="46" class="g">HasProperties</text><text x="166" y="46" class="c g">S[0:?]</text><text x="2" y="58">Name</text><text x="166" y="58" class="c">[0:1]</text><text x="2" y="70">Description</text><text x="166" y="70" class="c">[0:1]</text><text x="2" y="82">Material</text><text x="166" y="82" class="c">[0:1]</text><text x="2" y="94">Profile</text><text x="166" y="94" class="c">[1:1]</text><text x="2" y="106">Priority</text><text x="166" y="106" class="c">[0:1]</text><text x="2" y="118" class="b">Category</text><text x="166" y="118" class="c">[0:1]</text><text x="2" y="130" class="g">ToMaterialProfileSet</text><text x="166" y="130" class="c g">[1:1]</text></g>
<g id="n_Label25"><rect class="hd" x="808.5" y="2424.5" width="168" height="12"/><text class="w" x="810.5" y="2434.5">IfcLabel</text></g>
<g id="n_Text13"><rect class="hd" x="808.5" y="2456.5" width="168" height="12"/><text class="w" x="810.5" y="2466.5">IfcText</text></g>
<g id="n_Material3" transform="translate(808.5,2488.5)"><rect class="bx" width="168" height="120"/><rect class="hd" width="168" height="12"/><text class="h" x="2" y="10">IfcMaterial</text>
<text x="2" y="22" class="g">AssociatedTo</text><text x="166" y="22" class="c g">S[0:?]</text><text x="2" y="34" class="g">HasExternalReferences</text><text x="166" y="34" class="c g">S[0:?]</text><text x="2" y="46" class="g">HasProperties</text><text x="166" y="46" class="c g">S[0:?]</text><text x="2" y="58">Name</text><text x="166" y="58" class="c">[1:1]</text><text x="2" y="70">Description</text><text x="166" y="70" class="c">[0:1]</text><text x="2" y="82">Category</text><text x="166" y="82" class="c">[0:1]</text><text x="2" y="94" class="g">HasRepresentation</text><text x="166" y="94" class="c g">S[0:1]</text><text x="2" y="106" class="g">IsRelatedWith</text><text x="166" y="106" class="c g">S[0:?]</text><text x="2" y="118" class="g">RelatesTo</text><text x="166" y="118" class="c g">S[0:1]</text></g>
<g id="n_ProfileDef" transform="translate(808.5,2628.5)"><rect class="bx" width="168" height="60"/><rect class="hd" width="168" height="12"/><text class="h" x="2" y="10">IfcProfileDef</text>
<text x="2" y="22">ProfileType</text><text x="166" y="22" class="c">[1:1]</text><text x="2" y="34" class="b">ProfileName</text><text x="166" y="34" class="c">[0:1]</text><text x="2" y="46" class="g">HasExternalReference</text><text x="166" y="46" class="c g">S[0:?]</text><text x="2" y="58" class="g">HasProperties</text><text x="166" y="58" class="c g">S[0:?]</text></g>
<g id="n_Integer"><rect class="hd" x="808.5" y="2708.5" width="168" height="12"/><text class="w" x="810.5" y="2718.5">IfcInteger</text></g>
<g id="n_Label26"><rect class="hd" x="808.5" y="2740.5" width="168" height="12"/><text class="w" x="810.5" y="2750.5">IfcLabel</text></g>
<g id="n_MatBlue3"><rect class="bl" x="1008.5" y="2424.5" width="168" height="12"/><text class="w" x="1010.5" y="2434.5">Material</text></g>
<g id="n_ProfTypeEnum"><rect class="hd" x="1008.5" y="2456.5" width="168" height="12"/><text class="w" x="1010.5" y="2466.5">IfcProfileTypeEnum</text></g>
<g id="n_Label27"><rect class="hd" x="1008.5" y="2488.5" width="168" height="12"/><text class="w" x="1010.5" y="2498.5">IfcLabel</text></g>

<g id="n_RelAssocMat4" transform="translate(208.5,2796.5)"><rect class="bx" width="168" height="84"/><rect class="hd" width="168" height="12"/><text class="h" x="2" y="10">IfcRelAssociatesMaterial</text>
<text x="2" y="22">GlobalId</text><text x="166" y="22" class="c">[1:1]</text><text x="2" y="34">OwnerHistory</text><text x="166" y="34" class="c">[0:1]</text><text x="2" y="46">Name</text><text x="166" y="46" class="c">[0:1]</text><text x="2" y="58">Description</text><text x="166" y="58" class="c">[0:1]</text><text x="2" y="70">RelatedObjects</text><text x="166" y="70" class="c">S[1:?]</text><text x="2" y="82">RelatingMaterial</text><text x="166" y="82" class="c">[1:1]</text></g>
<g id="n_Material4" transform="translate(408.5,2796.5)"><rect class="bx" width="168" height="120"/><rect class="hd" width="168" height="12"/><text class="h" x="2" y="10">IfcMaterial</text>
<text x="2" y="22" class="g">AssociatedTo</text><text x="166" y="22" class="c g">S[0:?]</text><text x="2" y="34" class="g">HasExternalReferences</text><text x="166" y="34" class="c g">S[0:?]</text><text x="2" y="46" class="g">HasProperties</text><text x="166" y="46" class="c g">S[0:?]</text><text x="2" y="58">Name</text><text x="166" y="58" class="c">[1:1]</text><text x="2" y="70">Description</text><text x="166" y="70" class="c">[0:1]</text><text x="2" y="82">Category</text><text x="166" y="82" class="c">[0:1]</text><text x="2" y="94" class="g">HasRepresentation</text><text x="166" y="94" class="c g">S[0:1]</text><text x="2" y="106" class="g">IsRelatedWith</text><text x="166" y="106" class="c g">S[0:?]</text><text x="2" y="118" class="g">RelatesTo</text><text x="166" y="118" class="c g">S[0:1]</text></g>
<g id="n_MatBlue4"><rect class="bl" x="608.5" y="2796.5" width="168" height="12"/><text class="w" x="610.5" y="2806.5">Material</text></g>

<g id="n_RelDefType1" transform="translate(208.5,2960.5)"><rect class="bx" width="168" height="84"/><rect class="hd" width="168" height="12"/><text class="h" x="2" y="10">IfcRelDefinesByType</text>
<text x="2" y="22">GlobalId</text><text x="166" y="22" class="c">[1:1]</text><text x="2" y="34">OwnerHistory</text><text x="166" y="34" class="c">[0:1]</text><text x="2" y="46">Name</text><text x="166" y="46" class="c">[0:1]</text><text x="2" y="58">Description</text><text x="166" y="58" class="c">[0:1]</text><text x="2" y="70">RelatedObjects</text><text x="166" y="70" class="c">S[1:?]</text><text x="2" y="82">RelatingType</text><text x="166" y="82" class="c">[1:1]</text></g>
<g id="n_TypeObject1" transform="translate(408.5,2960.5)"><rect class="bx" width="168" height="180"/><rect class="hd" width="168" height="12"/><text class="h" x="2" y="10">IfcTypeObject</text>
<text x="2" y="22" class="b">GlobalId</text><text x="166" y="22" class="c">[1:1]</text><text x="2" y="34">OwnerHistory</text><text x="166" y="34" class="c">[0:1]</text><text x="2" y="46" class="b">Name</text><text x="166" y="46" class="c">[0:1]</text><text x="2" y="58" class="b">Description</text><text x="166" y="58" class="c">[0:1]</text><text x="2" y="70" class="g">HasAssignments</text><text x="166" y="70" class="c g">S[0:?]</text><text x="2" y="82" class="g">Nests</text><text x="166" y="82" class="c g">S[0:1]</text><text x="2" y="94" class="g">IsNestedBy</text><text x="166" y="94" class="c g">S[0:?]</text><text x="2" y="106" class="g">HasContext</text><text x="166" y="106" class="c g">S[0:1]</text><text x="2" y="118" class="g">IsDecomposedBy</text><text x="166" y="118" class="c g">S[0:?]</text><text x="2" y="130" class="g">Decomposes</text><text x="166" y="130" class="c g">S[0:1]</text><text x="2" y="142" class="g">HasAssociations</text><text x="166" y="142" class="c g">S[0:?]</text><text x="2" y="154">ApplicableOccurrence</text><text x="166" y="154" class="c">[0:1]</text><text x="2" y="166">HasPropertySets</text><text x="166" y="166" class="c">S[1:?]</text><text x="2" y="178" class="g">Types</text><text x="166" y="178" class="c g">S[0:1]</text></g>
<g id="n_Label28"><rect class="hd" x="608.5" y="2960.5" width="168" height="12"/><text class="w" x="610.5" y="2970.5">IfcLabel</text></g>
<g id="n_Text14"><rect class="hd" x="608.5" y="2992.5" width="168" height="12"/><text class="w" x="610.5" y="3002.5">IfcText</text></g>

<g id="n_RelDefType2" transform="translate(208.5,3184.5)"><rect class="bx" width="168" height="84"/><rect class="hd" width="168" height="12"/><text class="h" x="2" y="10">IfcRelDefinesByType</text>
<text x="2" y="22">GlobalId</text><text x="166" y="22" class="c">[1:1]</text><text x="2" y="34">OwnerHistory</text><text x="166" y="34" class="c">[0:1]</text><text x="2" y="46">Name</text><text x="166" y="46" class="c">[0:1]</text><text x="2" y="58">Description</text><text x="166" y="58" class="c">[0:1]</text><text x="2" y="70">RelatedObjects</text><text x="166" y="70" class="c">S[1:?]</text><text x="2" y="82">RelatingType</text><text x="166" y="82" class="c">[1:1]</text></g>
<g id="n_TypeObject2" transform="translate(408.5,3184.5)"><rect class="bx" width="168" height="180"/><rect class="hd" width="168" height="12"/><text class="h" x="2" y="10">IfcTypeObject</text>
<text x="2" y="22" class="b">GlobalId</text><text x="166" y="22" class="c">[1:1]</text><text x="2" y="34">OwnerHistory</text><text x="166" y="34" class="c">[0:1]</text><text x="2" y="46">Name</text><text x="166" y="46" class="c">[0:1]</text><text x="2" y="58">Description</text><text x="166" y="58" class="c">[0:1]</text><text x="2" y="70" class="g">HasAssignments</text><text x="166" y="70" class="c g">S[0:?]</text><text x="2" y="82" class="g">Nests</text><text x="166" y="82" class="c g">S[0:1]</text><text x="2" y="94" class="g">IsNestedBy</text><text x="166" y="94" class="c g">S[0:?]</text><text x="2" y="106" class="g">HasContext</text><text x="166" y="106" class="c g">S[0:1]</text><text x="2" y="118" class="g">IsDecomposedBy</text><text x="166" y="118" class="c g">S[0:?]</text><text x="2" y="130" class="g">Decomposes</text><text x="166" y="130" class="c g">S[0:1]</text><text x="2" y="142" class="g">HasAssociations</text><text x="166" y="142" class="c g">S[0:?]</text><text x="2" y="154">ApplicableOccurrence</text><text x="166" y="154" class="c">[0:1]</text><text x="2" y="166">HasPropertySets</text><text x="166" y="166" class="c">S[1:?]</text><text x="2" y="178" class="g">Types</text><text x="166" y="178" class="c g">S[0:1]</text></g>
<g id="n_PSet1" transform="translate(608.5,3184.5)"><rect class="bx" width="168" height="132"/><rect class="hd" width="168" height="12"/><text class="h" x="2" y="10">IfcPropertySet</text>
<text x="2" y="22">GlobalId</text><text x="166" y="22" class="c">[1:1]</text><text x="2" y="34">OwnerHistory</text><text x="166" y="34" class="c">[0:1]</text><text x="2" y="46">Name</text><text x="166" y="46" class="c">[0:1]</text><text x="2" y="58">Description</text><text x="166" y="58" class="c">[0:1]</text><text x="2" y="70" class="g">HasContext</text><text x="166" y="70" class="c g">S[0:1]</text><text x="2" y="82" class="g">HasAssociations</text><text x="166" y="82" class="c g">S[0:?]</text><text x="2" y="94" class="g">DefinesType</text><text x="166" y="94" class="c g">S[0:?]</text><text x="2" y="106" class="g">IsDefinedBy</text><text x="166" y="106" class="c g">S[0:?]</text><text x="2" y="118" class="g">DefinesOccurrence</text><text x="166" y="118" class="c g">S[0:?]</text><text x="2" y="130" class="b">HasProperties</text><text x="166" y="130" class="c">S[1:?]</text></g>
<g id="n_PSV1" transform="translate(808.5,3184.5)"><rect class="bx" width="168" height="144"/><rect class="hd" width="168" height="12"/><text class="h" x="2" y="10">IfcPropertySingleValue</text>
<text x="2" y="22" class="g">HasExternalReferences</text><text x="166" y="22" class="c g">S[0:?]</text><text x="2" y="34">Name</text><text x="166" y="34" class="c">[1:1]</text><text x="2" y="46">Description</text><text x="166" y="46" class="c">[0:1]</text><text x="2" y="58" class="g">PartOfPset</text><text x="166" y="58" class="c g">S[0:?]</text><text x="2" y="70" class="g">PropertyForDependance</text><text x="166" y="70" class="c g">S[0:?]</text><text x="2" y="82" class="g">PropertyDependsOn</text><text x="166" y="82" class="c g">S[0:?]</text><text x="2" y="94" class="g">PartOfComplex</text><text x="166" y="94" class="c g">S[0:?]</text><text x="2" y="106" class="g">HasConstraints</text><text x="166" y="106" class="c g">S[0:?]</text><text x="2" y="118" class="g">HasApprovals</text><text x="166" y="118" class="c g">S[0:?]</text><text x="2" y="130">NominalValue</text><text x="166" y="130" class="c">[0:1]</text><text x="2" y="142">Unit</text><text x="166" y="142" class="c">[0:1]</text></g>
<g id="n_PBV1" transform="translate(808.5,3348.5)"><rect class="bx" width="168" height="168"/><rect class="hd" width="168" height="12"/><text class="h" x="2" y="10">IfcPropertyBoundedValue</text>
<text x="2" y="22" class="g">HasExternalReferences</text><text x="166" y="22" class="c g">S[0:?]</text><text x="2" y="34">Name</text><text x="166" y="34" class="c">[1:1]</text><text x="2" y="46">Description</text><text x="166" y="46" class="c">[0:1]</text><text x="2" y="58" class="g">PartOfPset</text><text x="166" y="58" class="c g">S[0:?]</text><text x="2" y="70" class="g">PropertyForDependance</text><text x="166" y="70" class="c g">S[0:?]</text><text x="2" y="82" class="g">PropertyDependsOn</text><text x="166" y="82" class="c g">S[0:?]</text><text x="2" y="94" class="g">PartOfComplex</text><text x="166" y="94" class="c g">S[0:?]</text><text x="2" y="106" class="g">HasConstraints</text><text x="166" y="106" class="c g">S[0:?]</text><text x="2" y="118" class="g">HasApprovals</text><text x="166" y="118" class="c g">S[0:?]</text><text x="2" y="130">UpperBoundValue</text><text x="166" y="130" class="c">[0:1]</text><text x="2" y="142">LowerBoundValue</text><text x="166" y="142" class="c">[0:1]</text><text x="2" y="154">Unit</text><text x="166" y="154" class="c">[0:1]</text><text x="2" y="166">SetPointValue</text><text x="166" y="166" class="c">[0:1]</text></g>
<g id="n_PEV1" transform="translate(808.5,3536.5)"><rect class="bx" width="168" height="144"/><rect class="hd" width="168" height="12"/><text class="h" x="2" y="10">IfcPropertyEnumeratedValue</text>
<text x="2" y="22" class="g">HasExternalReferences</text><text x="166" y="22" class="c g">S[0:?]</text><text x="2" y="34">Name</text><text x="166" y="34" class="c">[1:1]</text><text x="2" y="46">Description</text><text x="166" y="46" class="c">[0:1]</text><text x="2" y="58" class="g">PartOfPset</text><text x="166" y="58" class="c g">S[0:?]</text><text x="2" y="70" class="g">PropertyForDependance</text><text x="166" y="70" class="c g">S[0:?]</text><text x="2" y="82" class="g">PropertyDependsOn</text><text x="166" y="82" class="c g">S[0:?]</text><text x="2" y="94" class="g">PartOfComplex</text><text x="166" y="94" class="c g">S[0:?]</text><text x="2" y="106" class="g">HasConstraints</text><text x="166" y="106" class="c g">S[0:?]</text><text x="2" y="118" class="g">HasApprovals</text><text x="166" y="118" class="c g">S[0:?]</text><text x="2" y="130">EnumerationValues</text><text x="166" y="130" class="c">L[1:?]</text><text x="2" y="142">EnumerationReference</text><text x="166" y="142" class="c">[0:1]</text></g>
<g id="n_PLV1" transform="translate(808.5,3700.5)"><rect class="bx" width="168" height="144"/><rect class="hd" width="168" height="12"/><text class="h" x="2" y="10">IfcPropertyListValue</text>
<text x="2" y="22" class="g">HasExternalReferences</text><text x="166" y="22" class="c g">S[0:?]</text><text x="2" y="34">Name</text><text x="166" y="34" class="c">[1:1]</text><text x="2" y="46">Description</text><text x="166" y="46" class="c">[0:1]</text><text x="2" y="58" class="g">PartOfPset</text><text x="166" y="58" class="c g">S[0:?]</text><text x="2" y="70" class="g">PropertyForDependance</text><text x="166" y="70" class="c g">S[0:?]</text><text x="2" y="82" class="g">PropertyDependsOn</text><text x="166" y="82" class="c g">S[0:?]</text><text x="2" y="94" class="g">PartOfComplex</text><text x="166" y="94" class="c g">S[0:?]</text><text x="2" y="106" class="g">HasConstraints</text><text x="166" y="106" class="c g">S[0:?]</text><text x="2" y="118" class="g">HasApprovals</text><text x="166" y="118" class="c g">S[0:?]</text><text x="2" y="130">ListValues</text><text x="166" y="130" class="c">L[1:?]</text><text x="2" y="142">Unit</text><text x="166" y="142" class="c">[0:1]</text></g>
<g id="n_PTV1" transform="translate(808.5,3864.5)"><rect class="bx" width="168" height="192"/><rect class="hd" width="168" height="12"/><text class="h" x="2" y="10">IfcPropertyTableValue</text>
<text x="2" y="22" class="g">HasExternalReferences</text><text x="166" y="22" class="c g">S[0:?]</text><text x="2" y="34">Name</text><text x="166" y="34" class="c">[1:1]</text><text x="2" y="46">Description</text><text x="166" y="46" class="c">[0:1]</text><text x="2" y="58" class="g">PartOfPset</text><text x="166" y="58" class="c g">S[0:?]</text><text x="2" y="70" class="g">PropertyForDependance</text><text x="166" y="70" class="c g">S[0:?]</text><text x="2" y="82" class="g">PropertyDependsOn</text><text x="166" y="82" class="c g">S[0:?]</text><text x="2" y="94" class="g">PartOfComplex</text><text x="166" y="94" class="c g">S[0:?]</text><text x="2" y="106" class="g">HasConstraints</text><text x="166" y="106" class="c g">S[0:?]</text><text x="2" y="118" class="g">HasApprovals</text><text x="166" y="118" class="c g">S[0:?]</text><text x="2" y="130">DefiningValues</text><text x="166" y="130" class="c">L[1:?]</text><text x="2" y="142">DefinedValues</text><text x="166" y="142" class="c">L[1:?]</text><text x="2" y="154">Expression</text><text x="166" y="154" class="c">[0:1]</text><text x="2" y="166">DefiningUnit</text><text x="166" y="166" class="c">[0:1]</text><text x="2" y="178">DefinedUnit</text><text x="166" y="178" class="c">[0:1]</text><text x="2" y="190">CurveInterpolation</text><text x="166" y="190" class="c">[0:1]</text></g>
<g id="n_SV1"><rect class="bl" x="1008.5" y="3184.5" width="168" height="12"/><text class="w" x="1010.5" y="3194.5">Single Value</text></g>
<g id="n_BV1"><rect class="bl" x="1008.5" y="3216.5" width="168" height="12"/><text class="w" x="1010.5" y="3226.5">Bounded Value</text></g>
<g id="n_EV1"><rect class="bl" x="1008.5" y="3248.5" width="168" height="12"/><text class="w" x="1010.5" y="3258.5">Enumerated Value</text></g>
<g id="n_LV1"><rect class="bl" x="1008.5" y="3280.5" width="168" height="12"/><text class="w" x="1010.5" y="3290.5">List Value</text></g>
<g id="n_TV1"><rect class="bl" x="1008.5" y="3312.5" width="168" height="12"/><text class="w" x="1010.5" y="3322.5">Table Value</text></g>

<g id="n_RelDefProps1" transform="translate(208.5,4100.5)"><rect class="bx" width="168" height="84"/><rect class="hd" width="168" height="12"/><text class="h" x="2" y="10">IfcRelDefinesByProperties</text>
<text x="2" y="22">GlobalId</text><text x="166" y="22" class="c">[1:1]</text><text x="2" y="34">OwnerHistory</text><text x="166" y="34" class="c">[0:1]</text><text x="2" y="46">Name</text><text x="166" y="46" class="c">[0:1]</text><text x="2" y="58">Description</text><text x="166" y="58" class="c">[0:1]</text><text x="2" y="70">RelatedObjects</text><text x="166" y="70" class="c">S[1:?]</text><text x="2" y="82">RelatingPropertyDefinition</text><text x="166" y="82" class="c">[1:1]</text></g>
<g id="n_PSet2" transform="translate(408.5,4100.5)"><rect class="bx" width="168" height="132"/><rect class="hd" width="168" height="12"/><text class="h" x="2" y="10">IfcPropertySet</text>
<text x="2" y="22" class="b">GlobalId</text><text x="166" y="22" class="c">[1:1]</text><text x="2" y="34">OwnerHistory</text><text x="166" y="34" class="c">[0:1]</text><text x="2" y="46">Name</text><text x="166" y="46" class="c">[0:1]</text><text x="2" y="58">Description</text><text x="166" y="58" class="c">[0:1]</text><text x="2" y="70" class="g">HasContext</text><text x="166" y="70" class="c g">S[0:1]</text><text x="2" y="82" class="g">HasAssociations</text><text x="166" y="82" class="c g">S[0:?]</text><text x="2" y="94" class="g">DefinesType</text><text x="166" y="94" class="c g">S[0:?]</text><text x="2" y="106" class="g">IsDefinedBy</text><text x="166" y="106" class="c g">S[0:?]</text><text x="2" y="118" class="g">DefinesOccurrence</text><text x="166" y="118" class="c g">S[0:?]</text><text x="2" y="130" class="b">HasProperties</text><text x="166" y="130" class="c">S[1:?]</text></g>
<g id="n_PSV2" transform="translate(608.5,4100.5)"><rect class="bx" width="168" height="144"/><rect class="hd" width="168" height="12"/><text class="h" x="2" y="10">IfcPropertySingleValue</text>
<text x="2" y="22" class="g">HasExternalReferences</text><text x="166" y="22" class="c g">S[0:?]</text><text x="2" y="34">Name</text><text x="166" y="34" class="c">[1:1]</text><text x="2" y="46">Description</text><text x="166" y="46" class="c">[0:1]</text><text x="2" y="58" class="g">PartOfPset</text><text x="166" y="58" class="c g">S[0:?]</text><text x="2" y="70" class="g">PropertyForDependance</text><text x="166" y="70" class="c g">S[0:?]</text><text x="2" y="82" class="g">PropertyDependsOn</text><text x="166" y="82" class="c g">S[0:?]</text><text x="2" y="94" class="g">PartOfComplex</text><text x="166" y="94" class="c g">S[0:?]</text><text x="2" y="106" class="g">HasConstraints</text><text x="166" y="106" class="c g">S[0:?]</text><text x="2" y="118" class="g">HasApprovals</text><text x="166" y="118" class="c g">S[0:?]</text><text x="2" y="130">NominalValue</text><text x="166" y="130" class="c">[0:1]</text><text x="2" y="142">Unit</text><text x="166" y="142" class="c">[0:1]</text></g>
<g id="n_PBV2" transform="translate(608.5,4264.5)"><rect class="bx" width="168" height="168"/><rect class="hd" width="168" height="12"/><text class="h" x="2" y="10">IfcPropertyBoundedValue</text>
<text x="2" y="22" class="g">HasExternalReferences</text><text x="166" y="22" class="c g">S[0:?]</text><text x="2" y="34">Name</text><text x="166" y="34" class="c">[1:1]</text><text x="2" y="46">Description</text><text x="166" y="46" class="c">[0:1]</text><text x="2" y="58" class="g">PartOfPset</text><text x="166" y="58" class="c g">S[0:?]</text><text x="2" y="70" class="g">PropertyForDependance</text><text x="166" y="70" class="c g">S[0:?]</text><text x="2" y="82" class="g">PropertyDependsOn</text><text x="166" y="82" class="c g">S[0:?]</text><text x="2" y="94" class="g">PartOfComplex</text><text x="166" y="94" class="c g">S[0:?]</text><text x="2" y="106" class="g">HasConstraints</text><text x="166" y="106" class="c g">S[0:?]</text><text x="2" y="118" class="g">HasApprovals</text><text x="166" y="118" class="c g">S[0:?]</text><text x="2" y="130">UpperBoundValue</text><text x="166" y="130" class="c">[0:1]</text><text x="2" y="142">LowerBoundValue</text><text x="166" y="142" class="c">[0:1]</text><text x="2" y="154">Unit</text><text x="166" y="154" class="c">[0:1]</text><text x="2" y="166">SetPointValue</text><text x="166" y="166" class="c">[0:1]</text></g>
<g id="n_PEV2" transform="translate(608.5,4452.5)"><rect class="bx" width="168" height="144"/><rect class="hd" width="168" height="12"/><text class="h" x="2" y="10">IfcPropertyEnumeratedValue</text>
<text x="2" y="22" class="g">HasExternalReferences</text><text x="166" y="22" class="c g">S[0:?]</text><text x="2" y="34">Name</text><text x="166" y="34" class="c">[1:1]</text><text x="2" y="46">Description</text><text x="166" y="46" class="c">[0:1]</text><text x="2" y="58" class="g">PartOfPset</text><text x="166" y="58" class="c g">S[0:?]</text><text x="2" y="70" class="g">PropertyForDependance</text><text x="166" y="70" class="c g">S[0:?]</text><text x="2" y="82" class="g">PropertyDependsOn</text><text x="166" y="82" class="c g">S[0:?]</text><text x="2" y="94" class="g">PartOfComplex</text><text x="166" y="94" class="c g">S[0:?]</text><text x="2" y="106" class="g">HasConstraints</text><text x="166" y="106" class="c g">S[0:?]</text><text x="2" y="118" class="g">HasApprovals</text><text x="166" y="118" class="c g">S[0:?]</text><text x="2" y="130">EnumerationValues</text><text x="166" y="130" class="c">L[1:?]</text><text x="2" y="142">EnumerationReference</text><text x="166" y="142" class="c">[0:1]</text></g>
<g id="n_PLV2" transform="translate(608.5,4616.5)"><rect class="bx" width="168" height="144"/><rect class="hd" width="168" height="12"/><text class="h" x="2" y="10">IfcPropertyListValue</text>
<text x="2" y="22" class="g">HasExternalReferences</text><text x="166" y="22" class="c g">S[0:?]</text><text x="2" y="34">Name</text><text x="166" y="34" class="c">[1:1]</text><text x="2" y="46">Description</text><text x="166" y="46" class="c">[0:1]</text><text x="2" y="58" class="g">PartOfPset</text><text x="166" y="58" class="c g">S[0:?]</text><text x="2" y="70" class="g">PropertyForDependance</text><text x="166" y="70" class="c g">S[0:?]</text><text x="2" y="82" class="g">PropertyDependsOn</text><text x="166" y="82" class="c g">S[0:?]</text><text x="2" y="94" class="g">PartOfComplex</text><text x="166" y="94" class="c g">S[0:?]</text><text x="2" y="106" class="g">HasConstraints</text><text x="166" y="106" class="c g">S[0:?]</text><text x="2" y="118" class="g">HasApprovals</text><text x="166" y="118" class="c g">S[0:?]</text><text x="2" y="130">ListValues</text><text x="166" y="130" class="c">L[1:?]</text><text x="2" y="142">Unit</text><text x="166" y="142" class="c">[0:1]</text></g>
<g id="n_PTV2" transform="translate(608.5,4780.5)"><rect class="bx" width="168" height="192"/><rect class="hd" width="168" height="12"/><text class="h" x="2" y="10">IfcPropertyTableValue</text>
<text x="2" y="22" class="g">HasExternalReferences</text><text x="166" y="22" class="c g">S[0:?]</text><text x="2" y="34">Name</text><text x="166" y="34" class="c">[1:1]</text><text x="2" y="46">Description</text><text x="166" y="46" class="c">[0:1]</text><text x="2" y="58" class="g">PartOfPset</text><text x="166" y="58" class="c g">S[0:?]</text><text x="2" y="70" class="g">PropertyForDependance</text><text x="166" y="70" class="c g">S[0:?]</text><text x="2" y="82" class="g">PropertyDependsOn</text><text x="166" y="82" class="c g">S[0:?]</text><text x="2" y="94" class="g">PartOfComplex</text><text x="166" y="94" class="c g">S[0:?]</text><text x="2" y="106" class="g">HasConstraints</text><text x="166" y="106" class="c g">S[0:?]</text><text x="2" y="118" class="g">HasApprovals</text><text x="166" y="118" class="c g">S[0:?]</text><text x="2" y="130">DefiningValues</text><text x="166" y="130" class="c">L[1:?]</text><text x="2" y="142">DefinedValues</text><text x="166" y="142" class="c">L[1:?]</text><text x="2" y="154">Expression</text><text x="166" y="154" class="c">[0:1]</text><text x="2" y="166">DefiningUnit</text><text x="166" y="166" class="c">[0:1]</text><text x="2" y="178">DefinedUnit</text><text x="166" y="178" class="c">[0:1]</text><text x="2" y="190">CurveInterpolation</text><text x="166" y="190" class="c">[0:1]</text></g>
<g id="n_SV2"><rect class="bl" x="808.5" y="4100.5" width="168" height="12"/><text class="w" x="810.5" y="4110.5">Single Value</text></g>
<g id="n_BV2"><rect class="bl" x="808.5" y="4132.5" width="168" height="12"/><text class="w" x="810.5" y="4142.5">Bounded Value</text></g>
<g id="n_EV2"><rect class="bl" x="808.5" y="4164.5" width="168" height="12"/><text class="w" x="810.5" y="4174.5">Enumerated Value</text></g>
<g id="n_LV2"><rect class="bl" x="808.5" y="4196.5" width="168" height="12"/><text class="w" x="810.5" y="4206.5">List Value</text></g>
<g id="n_TV2"><rect class="bl" x="808.5" y="4228.5" width="168" height="12"/><text class="w" x="810.5" y="4238.5">Table Value</text></g>

<g id="n_RelDefProps2" transform="translate(208.5,5016.5)"><rect class="bx" width="168" height="84"/><rect class="hd" width="168" height="12"/><text class="h" x="2" y="10">IfcRelDefinesByProperties</text>
<text x="2" y="22">GlobalId</text><text x="166" y="22" class="c">[1:1]</text><text x="2" y="34">OwnerHistory</text><text x="166" y="34" class="c">[0:1]</text><text x="2" y="46">Name</text><text x="166" y="46" class="c">[0:1]</text><text x="2" y="58">Description</text><text x="166" y="58" class="c">[0:1]</text><text x="2" y="70">RelatedObjects</text><text x="166" y="70" class="c">S[1:?]</text><text x="2" y="82">RelatingPropertyDefinition</text><text x="166" y="82" class="c">[1:1]</text></g>
<g id="n_PSet3" transform="translate(408.5,5016.5)"><rect class="bx" width="168" height="132"/><rect class="hd" width="168" height="12"/><text class="h" x="2" y="10">IfcPropertySet</text>
<text x="2" y="22" class="b">GlobalId</text><text x="166" y="22" class="c">[1:1]</text><text x="2" y="34">OwnerHistory</text><text x="166" y="34" class="c">[0:1]</text><text x="2" y="46">Name</text><text x="166" y="46" class="c">[0:1]</text><text x="2" y="58">Description</text><text x="166" y="58" class="c">[0:1]</text><text x="2" y="70" class="g">HasContext</text><text x="166" y="70" class="c g">S[0:1]</text><text x="2" y="82" class="g">HasAssociations</text><text x="166" y="82" class="c g">S[0:?]</text><text x="2" y="94" class="g">DefinesType</text><text x="166" y="94" class="c g">S[0:?]</text><text x="2" y="106" class="g">IsDefinedBy</text><text x="166" y="106" class="c g">S[0:?]</text><text x="2" y="118" class="g">DefinesOccurrence</text><text x="166" y="118" class="c g">S[0:?]</text><text x="2" y="130" class="b">HasProperties</text><text x="166" y="130" class="c">S[1:?]</text></g>
<g id="n_PSV3" transform="translate(608.5,5016.5)"><rect class="bx" width="168" height="144"/><rect class="hd" width="168" height="12"/><text class="h" x="2" y="10">IfcPropertySingleValue</text>
<text x="2" y="22" class="g">HasExternalReferences</text><text x="166" y="22" class="c g">S[0:?]</text><text x="2" y="34">Name</text><text x="166" y="34" class="c">[1:1]</text><text x="2" y="46">Description</text><text x="166" y="46" class="c">[0:1]</text><text x="2" y="58" class="g">PartOfPset</text><text x="166" y="58" class="c g">S[0:?]</text><text x="2" y="70" class="g">PropertyForDependance</text><text x="166" y="70" class="c g">S[0:?]</text><text x="2" y="82" class="g">PropertyDependsOn</text><text x="166" y="82" class="c g">S[0:?]</text><text x="2" y="94" class="g">PartOfComplex</text><text x="166" y="94" class="c g">S[0:?]</text><text x="2" y="106" class="g">HasConstraints</text><text x="166" y="106" class="c g">S[0:?]</text><text x="2" y="118" class="g">HasApprovals</text><text x="166" y="118" class="c g">S[0:?]</text><text x="2" y="130">NominalValue</text><text x="166" y="130" class="c">[0:1]</text><text x="2" y="142">Unit</text><text x="166" y="142" class="c">[0:1]</text></g>
<g id="n_PBV3" transform="translate(608.5,5180.5)"><rect class="bx" width="168" height="168"/><rect class="hd" width="168" height="12"/><text class="h" x="2" y="10">IfcPropertyBoundedValue</text>
<text x="2" y="22" class="g">HasExternalReferences</text><text x="166" y="22" class="c g">S[0:?]</text><text x="2" y="34">Name</text><text x="166" y="34" class="c">[1:1]</text><text x="2" y="46">Description</text><text x="166" y="46" class="c">[0:1]</text><text x="2" y="58" class="g">PartOfPset</text><text x="166" y="58" class="c g">S[0:?]</text><text x="2" y="70" class="g">PropertyForDependance</text><text x="166" y="70" class="c g">S[0:?]</text><text x="2" y="82" class="g">PropertyDependsOn</text><text x="166" y="82" class="c g">S[0:?]</text><text x="2" y="94" class="g">PartOfComplex</text><text x="166" y="94" class="c g">S[0:?]</text><text x="2" y="106" class="g">HasConstraints</text><text x="166" y="106" class="c g">S[0:?]</text><text x="2" y="118" class="g">HasApprovals</text><text x="166" y="118" class="c g">S[0:?]</text><text x="2" y="130">UpperBoundValue</text><text x="166" y="130" class="c">[0:1]</text><text x="2" y="142">LowerBoundValue</text><text x="166" y="142" class="c">[0:1]</text><text x="2" y="154">Unit</text><text x="166" y="154" class="c">[0:1]</text><text x="2" y="166">SetPointValue</text><text x="166" y="166" class="c">[0:1]</text></g>
<g id="n_PEV3" transform="translate(608.5,5368.5)"><rect class="bx" width="168" height="144"/><rect class="hd" width="168" height="12"/><text class="h" x="2" y="10">IfcPropertyEnumeratedValue</text>
<text x="2" y="22" class="g">HasExternalReferences</text><text x="166" y="22" class="c g">S[0:?]</text><text x="2" y="34">Name</text><text x="166" y="34" class="c">[1:1]</text><text x="2" y="46">Description</text><text x="166" y="46" class="c">[0:1]</text><text x="2" y="58" class="g">PartOfPset</text><text x="166" y="58" class="c g">S[0:?]</text><text x="2" y="70" class="g">PropertyForDependance</text><text x="166" y="70" class="c g">S[0:?]</text><text x="2" y="82" class="g">PropertyDependsOn</text><text x="166" y="82" class="c g">S[0:?]</text><text x="2" y="94" class="g">PartOfComplex</text><text x="166" y="94" class="c g">S[0:?]</text><text x="2" y="106" class="g">HasConstraints</text><text x="166" y="106" class="c g">S[0:?]</text><text x="2" y="118" class="g">HasApprovals</text><text x="166" y="118" class="c g">S[0:?]</text><text x="2" y="130">EnumerationValues</text><text x="166" y="130" class="c">L[1:?]</text><text x="2" y="142">EnumerationReference</text><text x="166" y="142" class="c">[0:1]</text></g>
<g id="n_PLV3" transform="translate(608.5,5532.5)"><rect class="bx" width="168" height="144"/><rect class="hd" width="168" height="12"/><text class="h" x="2" y="10">IfcPropertyListValue</text>
<text x="2" y="22" class="g">HasExternalReferences</text><text x="166" y="22" class="c g">S[0:?]</text><text x="2" y="34">Name</text><text x="166" y="34" class="c">[1:1]</text><text x="2" y="46">Description</text><text x="166" y="46" class="c">[0:1]</text><text x="2" y="58" class="g">PartOfPset</text><text x="166" y="58" class="c g">S[0:?]</text><text x="2" y="70" class="g">PropertyForDependance</text><text x="166" y="70" class="c g">S[0:?]</text><text x="2" y="82" class="g">PropertyDependsOn</text><text x="166" y="82" class="c g">S[0:?]</text><text x="2" y="94" class="g">PartOfComplex</text><text x="166" y="94" class="c g">S[0:?]</text><text x="2" y="106" class="g">HasConstraints</text><text x="166" y="106" class="c g">S[0:?]</text><text x="2" y="118" class="g">HasApprovals</text><text x="166" y="118" class="c g">S[0:?]</text><text x="2" y="130">ListValues</text><text x="166" y="130" class="c">L[1:?]</text><text x="2" y="142">Unit</text><text x="166" y="142" class="c">[0:1]</text></g>
<g id="n_PTV3" transform="translate(608.5,5696.5)"><rect class="bx" width="168" height="192"/><rect class="hd" width="168" height="12"/><text class="h" x="2" y="10">IfcPropertyTableValue</text>
<text x="2" y="22" class="g">HasExternalReferences</text><text x="166" y="22" class="c g">S[0:?]</text><text x="2" y="34">Name</text><text x="166" y="34" class="c">[1:1]</text><text x="2" y="46">Description</text><text x="166" y="46" class="c">[0:1]</text><text x="2" y="58" class="g">PartOfPset</text><text x="166" y="58" class="c g">S[0:?]</text><text x="2" y="70" class="g">PropertyForDependance</text><text x="166" y="70" class="c g">S[0:?]</text><text x="2" y="82" class="g">PropertyDependsOn</text><text x="166" y="82" class="c g">S[0:?]</text><text x="2" y="94" class="g">PartOfComplex</text><text x="166" y="94" class="c g">S[0:?]</text><text x="2" y="106" class="g">HasConstraints</text><text x="166" y="106" class="c g">S[0:?]</text><text x="2" y="118" class="g">HasApprovals</text><text x="166" y="118" class="c g">S[0:?]</text><text x="2" y="130">DefiningValues</text><text x="166" y="130" class="c">L[1:?]</text><text x="2" y="142">DefinedValues</text><text x="166" y="142" class="c">L[1:?]</text><text x="2" y="154">Expression</text><text x="166" y="154" class="c">[0:1]</text><text x="2" y="166">DefiningUnit</text><text x="166" y="166" class="c">[0:1]</text><text x="2" y="178">DefinedUnit</text><text x="166" y="178" class="c">[0:1]</text><text x="2" y="190">CurveInterpolation</text><text x="166" y="190" class="c">[0:1]</text></g>
<g id="n_SV3"><rect class="bl" x="808.5" y="5016.5" width="168" height="12"/><text class="w" x="810.5" y="5026.5">Single Value</text></g>
<g id="n_BV3"><rect class="bl" x="808.5" y="5048.5" width="168" height="12"/><text class="w" x="810.5" y="5058.5">Bounded Value</text></g>
<g id="n_EV3"><rect class="bl" x="808.5" y="5080.5" width="168" height="12"/><text class="w" x="810.5" y="5090.5">Enumerated Value</text></g>
<g id="n_LV3"><rect class="bl" x="808.5" y="5112.5" width="168" height="12"/><text class="w" x="810.5" y="5122.5">List Value</text></g>
<g id="n_TV3"><rect class="bl" x="808.5" y="5144.5" width="168" height="12"/><text class="w" x="810.5" y="5154.5">Table Value</text></g>

<g id="n_RelDefProps3" transform="translate(208.5,5932.5)"><rect class="bx" width="168" height="84"/><rect class="hd" width="168" height="12"/><text class="h" x="2" y="10">IfcRelDefinesByProperties</text>
<text x="2" y="22">GlobalId</text><text x="166" y="22" class="c">[1:1]</text><text x="2" y="34">OwnerHistory</text><text x="166" y="34" class="c">[0:1]</text><text x="2" y="46">Name</text><text x="166" y="46" class="c">[0:1]</text><text x="2" y="58">Description</text><text x="166" y="58" class="c">[0:1]</text><text x="2" y="70">RelatedObjects</text><text x="166" y="70" class="c">S[1:?]</text><text x="2" y="82">RelatingPropertyDefinition</text><text x="166" y="82" class="c">[1:1]</text></g>
<g id="n_ElemQty" transform="translate(408.5,5932.5)"><rect class="bx" width="168" height="144"/><rect class="hd" width="168" height="12"/><text class="h" x="2" y="10">IfcElementQuantity</text>
<text x="2" y="22" class="b">GlobalId</text><text x="166" y="22" class="c">[1:1]</text><text x="2" y="34">OwnerHistory</text><text x="166" y="34" class="c">[0:1]</text><text x="2" y="46" class="b">Name</text><text x="166" y="46" class="c">[0:1]</text><text x="2" y="58">Description</text><text x="166" y="58" class="c">[0:1]</text><text x="2" y="70" class="g">HasContext</text><text x="166" y="70" class="c g">S[0:1]</text><text x="2" y="82" class="g">HasAssociations</text><text x="166" y="82" class="c g">S[0:?]</text><text x="2" y="94" class="g">DefinesType</text><text x="166" y="94" class="c g">S[0:?]</text><text x="2" y="106" class="g">IsDefinedBy</text><text x="166" y="106" class="c g">S[0:?]</text><text x="2" y="118" class="g">DefinesOccurrence</text><text x="166" y="118" class="c g">S[0:?]</text><text x="2" y="130">MethodOfMeasurement</text><text x="166" y="130" class="c">[0:1]</text><text x="2" y="142" class="b">Quantities</text><text x="166" y="142" class="c">S[1:?]</text></g>
<g id="n_Label29"><rect class="hd" x="608.5" y="5932.5" width="168" height="12"/><text class="w" x="610.5" y="5942.5">IfcLabel</text></g>
<g id="n_Text15"><rect class="hd" x="608.5" y="5964.5" width="168" height="12"/><text class="w" x="610.5" y="5974.5">IfcText</text></g>
<g id="n_Label30"><rect class="hd" x="608.5" y="5996.5" width="168" height="12"/><text class="w" x="610.5" y="6006.5">IfcLabel</text></g>
<g id="n_QLen" transform="translate(608.5,6028.5)"><rect class="bx" width="168" height="96"/><rect class="hd" width="168" height="12"/><text class="h" x="2" y="10">IfcQuantityLength</text>
<text x="2" y="22">Name</text><text x="166" y="22" class="c">[1:1]</text><text x="2" y="34">Description</text><text x="166" y="34" class="c">[0:1]</text><text x="2" y="46" class="g">HasExternalReferences</text><text x="166" y="46" class="c g">S[0:?]</text><text x="2" y="58" class="g">PartOfComplex</text><text x="166" y="58" class="c g">S[0:1]</text><text x="2" y="70">Unit</text><text x="166" y="70" class="c">[0:1]</text><text x="2" y="82">LengthValue</text><text x="166" y="82" class="c">[1:1]</text><text x="2" y="94">Formula</text><text x="166" y="94" class="c">[0:1]</text></g>
<g id="n_QArea" transform="translate(608.5,6144.5)"><rect class="bx" width="168" height="96"/><rect class="hd" width="168" height="12"/><text class="h" x="2" y="10">IfcQuantityArea</text>
<text x="2" y="22">Name</text><text x="166" y="22" class="c">[1:1]</text><text x="2" y="34">Description</text><text x="166" y="34" class="c">[0:1]</text><text x="2" y="46" class="g">HasExternalReferences</text><text x="166" y="46" class="c g">S[0:?]</text><text x="2" y="58" class="g">PartOfComplex</text><text x="166" y="58" class="c g">S[0:1]</text><text x="2" y="70">Unit</text><text x="166" y="70" class="c">[0:1]</text><text x="2" y="82">AreaValue</text><text x="166" y="82" class="c">[1:1]</text><text x="2" y="94">Formula</text><text x="166" y="94" class="c">[0:1]</text></g>
<g id="n_QVol" transform="translate(608.5,6260.5)"><rect class="bx" width="168" height="96"/><rect class="hd" width="168" height="12"/><text class="h" x="2" y="10">IfcQuantityVolume</text>
<text x="2" y="22">Name</text><text x="166" y="22" class="c">[1:1]</text><text x="2" y="34">Description</text><text x="166" y="34" class="c">[0:1]</text><text x="2" y="46" class="g">HasExternalReferences</text><text x="166" y="46" class="c g">S[0:?]</text><text x="2" y="58" class="g">PartOfComplex</text><text x="166" y="58" class="c g">S[0:1]</text><text x="2" y="70">Unit</text><text x="166" y="70" class="c">[0:1]</text><text x="2" y="82">VolumeValue</text><text x="166" y="82" class="c">[1:1]</text><text x="2" y="94">Formula</text><text x="166" y="94" class="c">[0:1]</text></g>
<g id="n_QWeight" transform="translate(608.5,6376.5)"><rect class="bx" width="168" height="96"/><rect class="hd" width="168" height="12"/><text class="h" x="2" y="10">IfcQuantityWeight</text>
<text x="2" y="22">Name</text><text x="166" y="22" class="c">[1:1]</text><text x="2" y="34">Description</text><text x="166" y="34" class="c">[0:1]</text><text x="2" y="46" class="g">HasExternalReferences</text><text x="166" y="46" class="c g">S[0:?]</text><text x="2" y="58" class="g">PartOfComplex</text><text x="166" y="58" class="c g">S[0:1]</text><text x="2" y="70">Unit</text><text x="166" y="70" class="c">[0:1]</text><text x="2" y="82">WeightValue</text><text x="166" y="82" class="c">[1:1]</text><text x="2" y="94">Formula</text><text x="166" y="94" class="c">[0:1]</text></g>
<g id="n_QCount" transform="translate(608.5,6492.5)"><rect class="bx" width="168" height="96"/><rect class="hd" width="168" height="12"/><text class="h" x="2" y="10">IfcQuantityCount</text>
<text x="2" y="22">Name</text><text x="166" y="22" class="c">[1:1]</text><text x="2" y="34">Description</text><text x="166" y="34" class="c">[0:1]</text><text x="2" y="46" class="g">HasExternalReferences</text><text x="166" y="46" class="c g">S[0:?]</text><text x="2" y="58" class="g">PartOfComplex</text><text x="166" y="58" class="c g">S[0:1]</text><text x="2" y="70">Unit</text><text x="166" y="70" class="c">[0:1]</text><text x="2" y="82">CountValue</text><text x="166" y="82" class="c">[1:1]</text><text x="2" y="94">Formula</text><text x="166" y="94" class="c">[0:1]</text></g>
<g id="n_QTime" transform="translate(608.5,6608.5)"><rect class="bx" width="168" height="96"/><rect class="hd" width="168" height="12"/><text class="h" x="2" y="10">IfcQuantityTime</text>
<text x="2" y="22">Name</text><text x="166" y="22" class="c">[1:1]</text><text x="2" y="34">Description</text><text x="166" y="34" class="c">[0:1]</text><text x="2" y="46" class="g">HasExternalReferences</text><text x="166" y="46" class="c g">S[0:?]</text><text x="2" y="58" class="g">PartOfComplex</text><text x="166" y="58" class="c g">S[0:1]</text><text x="2" y="70">Unit</text><text x="166" y="70" class="c">[0:1]</text><text x="2" y="82">TimeValue</text><text x="166" y="82" class="c">[1:1]</text><text x="2" y="94">Formula</text><text x="166" y="94" class="c">[0:1]</text></g>
<g id="n_LQ"><rect class="bl" x="808.5" y="5932.5" width="168" height="12"/><text class="w" x="810.5" y="5942.5">Length Quantity</text></g>
<g id="n_AQ"><rect class="bl" x="808.5" y="5964.5" width="168" height="12"/><text class="w" x="810.5" y="5974.5">Area Quantity</text></g>
<g id="n_VQ"><rect class="bl" x="808.5" y="5996.5" width="168" height="12"/><text class="w" x="810.5" y="6006.5">Volume Quantity</text></g>
<g id="n_WQ"><rect class="bl" x="808.5" y="6028.5" width="168" height="12"/><text class="w" x="810.5" y="6038.5">Weight Quantity</text></g>
<g id="n_CQ"><rect class="bl" x="808.5" y="6060.5" width="168" height="12"/><text class="w" x="810.5" y="6070.5">Count Quantity</text></g>
<g id="n_TQ"><rect class="bl" x="808.5" y="6092.5" width="168" height="12"/><text class="w" x="810.5" y="6102.5">Time Quantity</text></g>

<g id="n_RelAssignsToGroup2" transform="translate(208.5,6748.5)"><rect class="bx" width="168" height="96"/><rect class="hd" width="168" height="12"/><text class="h" x="2" y="10">IfcRelAssignsToGroup</text>
<text x="2" y="22">GlobalId</text><text x="166" y="22" class="c">[1:1]</text><text x="2" y="34">OwnerHistory</text><text x="166" y="34" class="c">[0:1]</text><text x="2" y="46">Name</text><text x="166" y="46" class="c">[0:1]</text><text x="2" y="58">Description</text><text x="166" y="58" class="c">[0:1]</text><text x="2" y="70" class="b">RelatedObjects</text><text x="166" y="70" class="c">S[1:?]</text><text x="2" y="82">RelatedObjectsType</text><text x="166" y="82" class="c">[0:1]</text><text x="2" y="94">RelatingGroup</text><text x="166" y="94" class="c">[1:1]</text></g>
<g id="n_Product" transform="translate(408.5,6748.5)"><rect class="bx" width="168" height="264"/><rect class="hg" width="168" height="12"/><text class="h" x="2" y="10">IfcProduct</text>
<text x="2" y="22">GlobalId</text><text x="166" y="22" class="c">[1:1]</text><text x="2" y="34">OwnerHistory</text><text x="166" y="34" class="c">[0:1]</text><text x="2" y="46">Name</text><text x="166" y="46" class="c">[0:1]</text><text x="2" y="58">Description</text><text x="166" y="58" class="c">[0:1]</text><text x="2" y="70" class="g">HasAssignments</text><text x="166" y="70" class="c g">S[0:?]</text><text x="2" y="82" class="g">Nests</text><text x="166" y="82" class="c g">S[0:1]</text><text x="2" y="94" class="g">IsNestedBy</text><text x="166" y="94" class="c g">S[0:?]</text><text x="2" y="106" class="g">HasContext</text><text x="166" y="106" class="c g">S[0:1]</text><text x="2" y="118" class="g">IsDecomposedBy</text><text x="166" y="118" class="c g">S[0:?]</text><text x="2" y="130" class="g">Decomposes</text><text x="166" y="130" class="c g">S[0:1]</text><text x="2" y="142" class="g">HasAssociations</text><text x="166" y="142" class="c g">S[0:?]</text><text x="2" y="154">ObjectType</text><text x="166" y="154" class="c">[0:1]</text><text x="2" y="166" class="g">IsDeclaredBy</text><text x="166" y="166" class="c g">S[0:1]</text><text x="2" y="178" class="g">Declares</text><text x="166" y="178" class="c g">S[0:?]</text><text x="2" y="190" class="g">IsTypedBy</text><text x="166" y="190" class="c g">S[0:1]</text><text x="2" y="202" class="g">IsDefinedBy</text><text x="166" y="202" class="c g">S[0:?]</text><text x="2" y="214">ObjectPlacement</text><text x="166" y="214" class="c">[0:1]</text><text x="2" y="226">Representation</text><text x="166" y="226" class="c">[0:1]</text><text x="2" y="238" class="g">ReferencedBy</text><text x="166" y="238" class="c g">S[0:?]</text><text x="2" y="250" class="g">PositionedRelativeTo</text><text x="166" y="250" class="c g">S[0:?]</text><text x="2" y="262" class="g">ReferencedInStructures</text><text x="166" y="262" class="c g">S[0:?]</text></g>
</g>
</svg>
